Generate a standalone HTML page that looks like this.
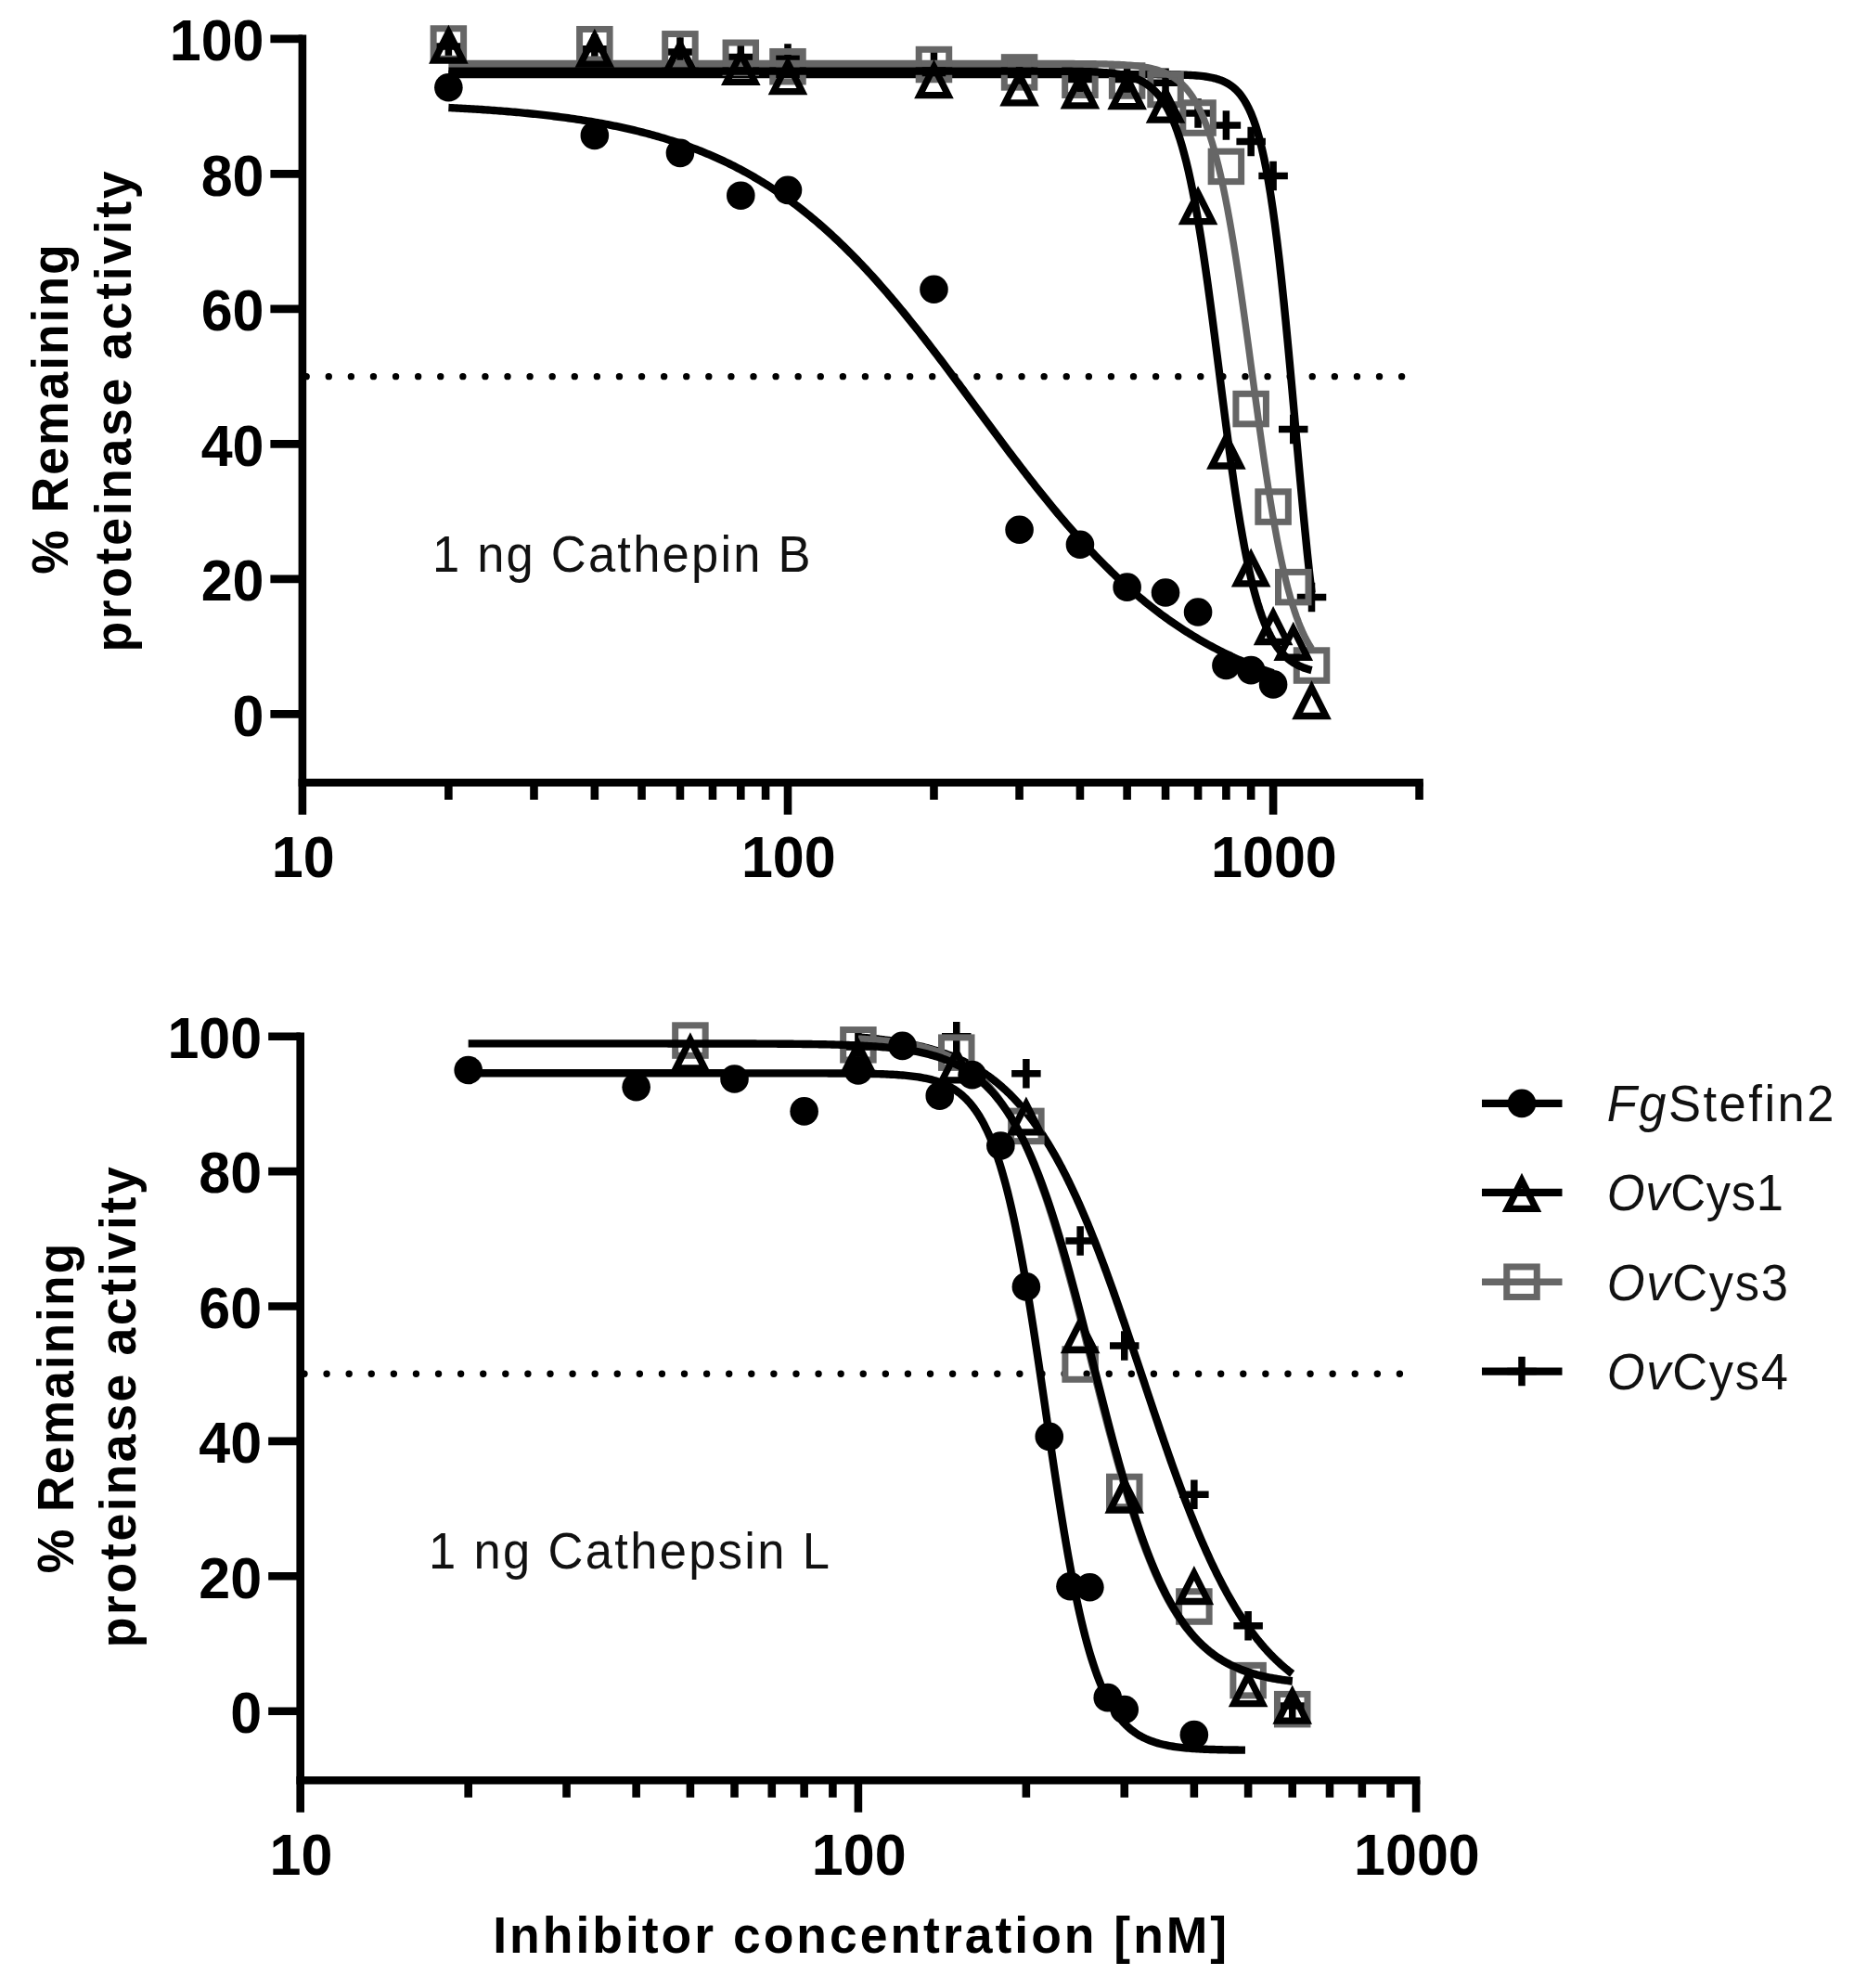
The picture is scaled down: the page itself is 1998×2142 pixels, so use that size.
<!DOCTYPE html>
<html><head><meta charset="utf-8"><title>Inhibition of cathepsin B and L</title>
<style>
html,body{margin:0;padding:0;background:#fff}
svg{display:block}
text{font-family:"Liberation Sans",Arial,Helvetica,sans-serif;fill:#000}
.tk{font-size:61px;font-weight:bold}
.yl{font-size:53.5px;font-weight:bold}
.an{font-size:52.5px;fill:#111}
</style></head><body>
<svg width="1998" height="2142" viewBox="0 0 1998 2142">
<rect width="1998" height="2142" fill="#fff"/>
<path d="M325.9 37.6V877.7" stroke="#000" stroke-width="8.6" fill="none"/>
<path d="M321.6 843.2H1533.87" stroke="#000" stroke-width="8.6" fill="none"/>
<path d="M291.4 769.4H325.9" stroke="#000" stroke-width="8.6"/>
<text transform="translate(284.5 792.6) scale(1 1.04)" text-anchor="end" class="tk">0</text>
<path d="M291.4 623.9H325.9" stroke="#000" stroke-width="8.6"/>
<text transform="translate(284.5 647.1) scale(1 1.04)" text-anchor="end" class="tk">20</text>
<path d="M291.4 478.4H325.9" stroke="#000" stroke-width="8.6"/>
<text transform="translate(284.5 501.6) scale(1 1.04)" text-anchor="end" class="tk">40</text>
<path d="M291.4 332.9H325.9" stroke="#000" stroke-width="8.6"/>
<text transform="translate(284.5 356.1) scale(1 1.04)" text-anchor="end" class="tk">60</text>
<path d="M291.4 187.4H325.9" stroke="#000" stroke-width="8.6"/>
<text transform="translate(284.5 210.6) scale(1 1.04)" text-anchor="end" class="tk">80</text>
<path d="M291.4 41.9H325.9" stroke="#000" stroke-width="8.6"/>
<text transform="translate(284.5 65.1) scale(1 1.04)" text-anchor="end" class="tk">100</text>
<path d="M483.37 843.2V861.7" stroke="#000" stroke-width="8.6"/>
<path d="M575.48 843.2V861.7" stroke="#000" stroke-width="8.6"/>
<path d="M640.84 843.2V861.7" stroke="#000" stroke-width="8.6"/>
<path d="M691.53 843.2V861.7" stroke="#000" stroke-width="8.6"/>
<path d="M732.95 843.2V861.7" stroke="#000" stroke-width="8.6"/>
<path d="M767.97 843.2V861.7" stroke="#000" stroke-width="8.6"/>
<path d="M798.31 843.2V861.7" stroke="#000" stroke-width="8.6"/>
<path d="M825.06 843.2V861.7" stroke="#000" stroke-width="8.6"/>
<path d="M849 843.2V877.7" stroke="#000" stroke-width="8.6"/>
<path d="M1006.47 843.2V861.7" stroke="#000" stroke-width="8.6"/>
<path d="M1098.58 843.2V861.7" stroke="#000" stroke-width="8.6"/>
<path d="M1163.94 843.2V861.7" stroke="#000" stroke-width="8.6"/>
<path d="M1214.63 843.2V861.7" stroke="#000" stroke-width="8.6"/>
<path d="M1256.05 843.2V861.7" stroke="#000" stroke-width="8.6"/>
<path d="M1291.07 843.2V861.7" stroke="#000" stroke-width="8.6"/>
<path d="M1321.41 843.2V861.7" stroke="#000" stroke-width="8.6"/>
<path d="M1348.16 843.2V861.7" stroke="#000" stroke-width="8.6"/>
<path d="M1372.1 843.2V877.7" stroke="#000" stroke-width="8.6"/>
<path d="M1529.57 843.2V861.7" stroke="#000" stroke-width="8.6"/>
<text transform="translate(326.7 944.9) scale(1 1.04)" text-anchor="middle" class="tk">10</text>
<text transform="translate(849.8 944.9) scale(1 1.04)" text-anchor="middle" class="tk">100</text>
<text transform="translate(1372.9 944.9) scale(1 1.04)" text-anchor="middle" class="tk">1000</text>
<path d="M330.2 405.65H1529.57" stroke="#000" stroke-width="7.4" stroke-linecap="round" stroke-dasharray="0 24.09" fill="none"/>
<polyline points="483.37,80.07 485.7,80.07 488.03,80.07 490.36,80.07 492.69,80.07 495.02,80.07 497.36,80.07 499.69,80.07 502.02,80.07 504.35,80.07 506.68,80.07 509.01,80.07 511.34,80.07 513.67,80.07 516.01,80.07 518.34,80.07 520.67,80.07 523,80.07 525.33,80.07 527.66,80.07 529.99,80.07 532.32,80.07 534.66,80.07 536.99,80.07 539.32,80.07 541.65,80.07 543.98,80.07 546.31,80.07 548.64,80.07 550.97,80.07 553.3,80.07 555.64,80.07 557.97,80.07 560.3,80.07 562.63,80.07 564.96,80.07 567.29,80.07 569.62,80.07 571.95,80.07 574.29,80.07 576.62,80.07 578.95,80.07 581.28,80.07 583.61,80.07 585.94,80.07 588.27,80.07 590.6,80.07 592.94,80.07 595.27,80.07 597.6,80.07 599.93,80.07 602.26,80.07 604.59,80.07 606.92,80.07 609.25,80.07 611.59,80.07 613.92,80.07 616.25,80.07 618.58,80.07 620.91,80.07 623.24,80.07 625.57,80.07 627.9,80.07 630.23,80.07 632.57,80.07 634.9,80.07 637.23,80.07 639.56,80.07 641.89,80.07 644.22,80.07 646.55,80.07 648.88,80.07 651.22,80.07 653.55,80.07 655.88,80.07 658.21,80.07 660.54,80.07 662.87,80.07 665.2,80.07 667.53,80.07 669.87,80.07 672.2,80.07 674.53,80.07 676.86,80.07 679.19,80.07 681.52,80.07 683.85,80.07 686.18,80.07 688.51,80.07 690.85,80.07 693.18,80.07 695.51,80.07 697.84,80.07 700.17,80.07 702.5,80.07 704.83,80.07 707.16,80.07 709.5,80.07 711.83,80.07 714.16,80.07 716.49,80.07 718.82,80.07 721.15,80.07 723.48,80.07 725.81,80.07 728.15,80.07 730.48,80.07 732.81,80.07 735.14,80.07 737.47,80.07 739.8,80.07 742.13,80.07 744.46,80.07 746.79,80.07 749.13,80.07 751.46,80.07 753.79,80.07 756.12,80.07 758.45,80.07 760.78,80.07 763.11,80.07 765.44,80.07 767.78,80.07 770.11,80.07 772.44,80.07 774.77,80.07 777.1,80.07 779.43,80.07 781.76,80.07 784.09,80.07 786.43,80.07 788.76,80.07 791.09,80.07 793.42,80.07 795.75,80.07 798.08,80.07 800.41,80.07 802.74,80.07 805.08,80.07 807.41,80.07 809.74,80.07 812.07,80.07 814.4,80.07 816.73,80.07 819.06,80.07 821.39,80.07 823.72,80.07 826.06,80.07 828.39,80.07 830.72,80.07 833.05,80.07 835.38,80.07 837.71,80.07 840.04,80.07 842.37,80.07 844.71,80.07 847.04,80.07 849.37,80.07 851.7,80.07 854.03,80.07 856.36,80.07 858.69,80.07 861.02,80.07 863.36,80.07 865.69,80.07 868.02,80.07 870.35,80.07 872.68,80.07 875.01,80.07 877.34,80.07 879.67,80.07 882,80.07 884.34,80.07 886.67,80.07 889,80.07 891.33,80.07 893.66,80.07 895.99,80.07 898.32,80.07 900.65,80.07 902.99,80.07 905.32,80.07 907.65,80.07 909.98,80.07 912.31,80.07 914.64,80.07 916.97,80.07 919.3,80.07 921.64,80.07 923.97,80.07 926.3,80.07 928.63,80.07 930.96,80.07 933.29,80.07 935.62,80.07 937.95,80.07 940.29,80.07 942.62,80.07 944.95,80.07 947.28,80.07 949.61,80.07 951.94,80.07 954.27,80.07 956.6,80.07 958.93,80.07 961.27,80.07 963.6,80.07 965.93,80.07 968.26,80.07 970.59,80.07 972.92,80.07 975.25,80.07 977.58,80.07 979.92,80.07 982.25,80.07 984.58,80.07 986.91,80.07 989.24,80.07 991.57,80.07 993.9,80.07 996.23,80.07 998.57,80.07 1000.9,80.07 1003.23,80.07 1005.56,80.07 1007.89,80.07 1010.22,80.07 1012.55,80.07 1014.88,80.07 1017.21,80.07 1019.55,80.07 1021.88,80.07 1024.21,80.07 1026.54,80.07 1028.87,80.07 1031.2,80.07 1033.53,80.07 1035.86,80.07 1038.2,80.07 1040.53,80.07 1042.86,80.07 1045.19,80.07 1047.52,80.07 1049.85,80.07 1052.18,80.07 1054.51,80.07 1056.85,80.07 1059.18,80.07 1061.51,80.07 1063.84,80.07 1066.17,80.07 1068.5,80.07 1070.83,80.07 1073.16,80.07 1075.49,80.07 1077.83,80.07 1080.16,80.07 1082.49,80.07 1084.82,80.07 1087.15,80.07 1089.48,80.07 1091.81,80.07 1094.14,80.07 1096.48,80.07 1098.81,80.07 1101.14,80.07 1103.47,80.07 1105.8,80.07 1108.13,80.07 1110.46,80.07 1112.79,80.07 1115.13,80.07 1117.46,80.07 1119.79,80.07 1122.12,80.07 1124.45,80.07 1126.78,80.07 1129.11,80.07 1131.44,80.07 1133.78,80.07 1136.11,80.07 1138.44,80.07 1140.77,80.07 1143.1,80.07 1145.43,80.07 1147.76,80.07 1150.09,80.07 1152.42,80.07 1154.76,80.07 1157.09,80.07 1159.42,80.07 1161.75,80.07 1164.08,80.07 1166.41,80.07 1168.74,80.07 1171.07,80.07 1173.41,80.07 1175.74,80.07 1178.07,80.07 1180.4,80.07 1182.73,80.07 1185.06,80.07 1187.39,80.07 1189.72,80.08 1192.06,80.08 1194.39,80.08 1196.72,80.08 1199.05,80.08 1201.38,80.08 1203.71,80.08 1206.04,80.08 1208.37,80.08 1210.7,80.08 1213.04,80.09 1215.37,80.09 1217.7,80.09 1220.03,80.09 1222.36,80.1 1224.69,80.1 1227.02,80.11 1229.35,80.11 1231.69,80.12 1234.02,80.12 1236.35,80.13 1238.68,80.14 1241.01,80.15 1243.34,80.16 1245.67,80.17 1248,80.19 1250.34,80.2 1252.67,80.22 1255,80.25 1257.33,80.27 1259.66,80.3 1261.99,80.34 1264.32,80.38 1266.65,80.42 1268.98,80.47 1271.32,80.53 1273.65,80.6 1275.98,80.68 1278.31,80.77 1280.64,80.88 1282.97,81 1285.3,81.13 1287.63,81.29 1289.97,81.47 1292.3,81.68 1294.63,81.92 1296.96,82.19 1299.29,82.5 1301.62,82.86 1303.95,83.28 1306.28,83.75 1308.62,84.3 1310.95,84.92 1313.28,85.63 1315.61,86.45 1317.94,87.39 1320.27,88.47 1322.6,89.7 1324.93,91.11 1327.27,92.72 1329.6,94.56 1331.93,96.67 1334.26,99.07 1336.59,101.81 1338.92,104.94 1341.25,108.49 1343.58,112.53 1345.91,117.12 1348.25,122.31 1350.58,128.19 1352.91,134.82 1355.24,142.28 1357.57,150.65 1359.9,160.03 1362.23,170.48 1364.56,182.09 1366.9,194.94 1369.23,209.08 1371.56,224.57 1373.89,241.44 1376.22,259.69 1378.55,279.32 1380.88,300.27 1383.21,322.46 1385.55,345.76 1387.88,370.04 1390.21,395.11 1392.54,420.74 1394.87,446.72 1397.2,472.8 1399.53,498.72 1401.86,524.24 1404.19,549.14 1406.53,573.21 1408.86,596.27 1411.19,618.18 1413.52,638.83" stroke="#000" stroke-width="8.4" fill="none" stroke-linejoin="round"/>
<path d="M467.62 49.9H499.12M483.37 34.15V65.65" stroke="#000" stroke-width="7.5" fill="none"/>
<path d="M625.09 52.81H656.59M640.84 37.06V68.56" stroke="#000" stroke-width="7.5" fill="none"/>
<path d="M717.2 56.09H748.7M732.95 40.34V71.84" stroke="#000" stroke-width="7.5" fill="none"/>
<path d="M782.56 61.54H814.06M798.31 45.79V77.29" stroke="#000" stroke-width="7.5" fill="none"/>
<path d="M833.25 63H864.75M849 47.25V78.75" stroke="#000" stroke-width="7.5" fill="none"/>
<path d="M990.72 71.73H1022.22M1006.47 55.98V87.48" stroke="#000" stroke-width="7.5" fill="none"/>
<path d="M1082.83 78.28H1114.33M1098.58 62.53V94.03" stroke="#000" stroke-width="7.5" fill="none"/>
<path d="M1148.19 85.55H1179.69M1163.94 69.8V101.3" stroke="#000" stroke-width="7.5" fill="none"/>
<path d="M1198.88 85.55H1230.38M1214.63 69.8V101.3" stroke="#000" stroke-width="7.5" fill="none"/>
<path d="M1240.3 89.19H1271.8M1256.05 73.44V104.94" stroke="#000" stroke-width="7.5" fill="none"/>
<path d="M1275.32 121.93H1306.82M1291.07 106.18V137.68" stroke="#000" stroke-width="7.5" fill="none"/>
<path d="M1305.66 135.02H1337.16M1321.41 119.27V150.77" stroke="#000" stroke-width="7.5" fill="none"/>
<path d="M1332.41 152.48H1363.91M1348.16 136.73V168.23" stroke="#000" stroke-width="7.5" fill="none"/>
<path d="M1356.35 189.58H1387.85M1372.1 173.83V205.33" stroke="#000" stroke-width="7.5" fill="none"/>
<path d="M1378 462.39H1409.5M1393.75 446.64V478.14" stroke="#000" stroke-width="7.5" fill="none"/>
<path d="M1397.77 643.54H1429.27M1413.52 627.79V659.29" stroke="#000" stroke-width="7.5" fill="none"/>
<polyline points="483.37,68.44 485.7,68.44 488.03,68.44 490.36,68.44 492.69,68.44 495.02,68.44 497.36,68.44 499.69,68.44 502.02,68.44 504.35,68.44 506.68,68.44 509.01,68.44 511.34,68.44 513.67,68.44 516.01,68.44 518.34,68.44 520.67,68.44 523,68.44 525.33,68.44 527.66,68.44 529.99,68.44 532.32,68.44 534.66,68.44 536.99,68.44 539.32,68.44 541.65,68.44 543.98,68.44 546.31,68.44 548.64,68.44 550.97,68.44 553.3,68.44 555.64,68.44 557.97,68.44 560.3,68.44 562.63,68.44 564.96,68.44 567.29,68.44 569.62,68.44 571.95,68.44 574.29,68.44 576.62,68.44 578.95,68.44 581.28,68.44 583.61,68.44 585.94,68.44 588.27,68.44 590.6,68.44 592.94,68.44 595.27,68.44 597.6,68.44 599.93,68.44 602.26,68.44 604.59,68.44 606.92,68.44 609.25,68.44 611.59,68.44 613.92,68.44 616.25,68.44 618.58,68.44 620.91,68.44 623.24,68.44 625.57,68.44 627.9,68.44 630.23,68.44 632.57,68.44 634.9,68.44 637.23,68.44 639.56,68.44 641.89,68.44 644.22,68.44 646.55,68.44 648.88,68.44 651.22,68.44 653.55,68.44 655.88,68.44 658.21,68.44 660.54,68.44 662.87,68.44 665.2,68.44 667.53,68.44 669.87,68.44 672.2,68.44 674.53,68.44 676.86,68.44 679.19,68.44 681.52,68.44 683.85,68.44 686.18,68.44 688.51,68.44 690.85,68.44 693.18,68.44 695.51,68.44 697.84,68.44 700.17,68.44 702.5,68.44 704.83,68.44 707.16,68.44 709.5,68.44 711.83,68.44 714.16,68.44 716.49,68.44 718.82,68.44 721.15,68.44 723.48,68.44 725.81,68.44 728.15,68.44 730.48,68.44 732.81,68.44 735.14,68.44 737.47,68.44 739.8,68.44 742.13,68.44 744.46,68.44 746.79,68.44 749.13,68.44 751.46,68.44 753.79,68.44 756.12,68.44 758.45,68.44 760.78,68.44 763.11,68.44 765.44,68.44 767.78,68.44 770.11,68.44 772.44,68.44 774.77,68.44 777.1,68.44 779.43,68.44 781.76,68.44 784.09,68.44 786.43,68.44 788.76,68.44 791.09,68.44 793.42,68.44 795.75,68.44 798.08,68.44 800.41,68.44 802.74,68.44 805.08,68.44 807.41,68.44 809.74,68.44 812.07,68.44 814.4,68.44 816.73,68.44 819.06,68.44 821.39,68.44 823.72,68.44 826.06,68.44 828.39,68.44 830.72,68.44 833.05,68.44 835.38,68.44 837.71,68.44 840.04,68.44 842.37,68.44 844.71,68.44 847.04,68.44 849.37,68.44 851.7,68.44 854.03,68.44 856.36,68.44 858.69,68.44 861.02,68.44 863.36,68.44 865.69,68.44 868.02,68.44 870.35,68.44 872.68,68.44 875.01,68.44 877.34,68.44 879.67,68.44 882,68.44 884.34,68.44 886.67,68.44 889,68.44 891.33,68.44 893.66,68.44 895.99,68.44 898.32,68.44 900.65,68.44 902.99,68.44 905.32,68.44 907.65,68.44 909.98,68.44 912.31,68.44 914.64,68.44 916.97,68.44 919.3,68.44 921.64,68.44 923.97,68.44 926.3,68.44 928.63,68.44 930.96,68.44 933.29,68.44 935.62,68.44 937.95,68.44 940.29,68.44 942.62,68.44 944.95,68.44 947.28,68.44 949.61,68.44 951.94,68.44 954.27,68.44 956.6,68.44 958.93,68.44 961.27,68.44 963.6,68.44 965.93,68.44 968.26,68.44 970.59,68.44 972.92,68.44 975.25,68.44 977.58,68.44 979.92,68.44 982.25,68.44 984.58,68.44 986.91,68.44 989.24,68.44 991.57,68.44 993.9,68.44 996.23,68.44 998.57,68.44 1000.9,68.44 1003.23,68.44 1005.56,68.44 1007.89,68.44 1010.22,68.44 1012.55,68.44 1014.88,68.44 1017.21,68.44 1019.55,68.44 1021.88,68.44 1024.21,68.44 1026.54,68.44 1028.87,68.44 1031.2,68.44 1033.53,68.44 1035.86,68.44 1038.2,68.44 1040.53,68.44 1042.86,68.44 1045.19,68.44 1047.52,68.44 1049.85,68.44 1052.18,68.44 1054.51,68.44 1056.85,68.44 1059.18,68.44 1061.51,68.44 1063.84,68.44 1066.17,68.44 1068.5,68.44 1070.83,68.44 1073.16,68.44 1075.49,68.44 1077.83,68.44 1080.16,68.44 1082.49,68.45 1084.82,68.45 1087.15,68.45 1089.48,68.45 1091.81,68.45 1094.14,68.45 1096.48,68.45 1098.81,68.45 1101.14,68.45 1103.47,68.45 1105.8,68.45 1108.13,68.45 1110.46,68.46 1112.79,68.46 1115.13,68.46 1117.46,68.46 1119.79,68.46 1122.12,68.47 1124.45,68.47 1126.78,68.47 1129.11,68.48 1131.44,68.48 1133.78,68.48 1136.11,68.49 1138.44,68.5 1140.77,68.5 1143.1,68.51 1145.43,68.52 1147.76,68.52 1150.09,68.53 1152.42,68.54 1154.76,68.55 1157.09,68.57 1159.42,68.58 1161.75,68.59 1164.08,68.61 1166.41,68.63 1168.74,68.65 1171.07,68.67 1173.41,68.7 1175.74,68.73 1178.07,68.76 1180.4,68.8 1182.73,68.83 1185.06,68.88 1187.39,68.92 1189.72,68.98 1192.06,69.04 1194.39,69.1 1196.72,69.17 1199.05,69.26 1201.38,69.34 1203.71,69.44 1206.04,69.55 1208.37,69.67 1210.7,69.81 1213.04,69.96 1215.37,70.13 1217.7,70.31 1220.03,70.51 1222.36,70.74 1224.69,70.99 1227.02,71.27 1229.35,71.58 1231.69,71.92 1234.02,72.3 1236.35,72.72 1238.68,73.19 1241.01,73.71 1243.34,74.28 1245.67,74.91 1248,75.61 1250.34,76.39 1252.67,77.25 1255,78.2 1257.33,79.26 1259.66,80.42 1261.99,81.71 1264.32,83.13 1266.65,84.7 1268.98,86.44 1271.32,88.35 1273.65,90.46 1275.98,92.79 1278.31,95.35 1280.64,98.17 1282.97,101.27 1285.3,104.68 1287.63,108.41 1289.97,112.5 1292.3,116.98 1294.63,121.88 1296.96,127.22 1299.29,133.05 1301.62,139.38 1303.95,146.25 1306.28,153.69 1308.62,161.73 1310.95,170.39 1313.28,179.7 1315.61,189.68 1317.94,200.35 1320.27,211.7 1322.6,223.75 1324.93,236.49 1327.27,249.9 1329.6,263.96 1331.93,278.63 1334.26,293.89 1336.59,309.66 1338.92,325.89 1341.25,342.51 1343.58,359.44 1345.91,376.59 1348.25,393.88 1350.58,411.21 1352.91,428.49 1355.24,445.62 1357.57,462.52 1359.9,479.11 1362.23,495.29 1364.56,511.01 1366.9,526.2 1369.23,540.82 1371.56,554.81 1373.89,568.15 1376.22,580.81 1378.55,592.78 1380.88,604.06 1383.21,614.65 1385.55,624.56 1387.88,633.8 1390.21,642.4 1392.54,650.37 1394.87,657.75 1397.2,664.56 1399.53,670.84 1401.86,676.61 1404.19,681.9 1406.53,686.75 1408.86,691.19 1411.19,695.24 1413.52,698.94" stroke="#666" stroke-width="7.4" fill="none" stroke-linejoin="round"/>
<rect x="467.12" y="30.74" width="32.5" height="32.5" stroke="#666" stroke-width="7" fill="none"/>
<rect x="624.59" y="31.47" width="32.5" height="32.5" stroke="#666" stroke-width="7" fill="none"/>
<rect x="716.7" y="36.56" width="32.5" height="32.5" stroke="#666" stroke-width="7" fill="none"/>
<rect x="782.06" y="46.02" width="32.5" height="32.5" stroke="#666" stroke-width="7" fill="none"/>
<rect x="832.75" y="55.48" width="32.5" height="32.5" stroke="#666" stroke-width="7" fill="none"/>
<rect x="990.22" y="53.29" width="32.5" height="32.5" stroke="#666" stroke-width="7" fill="none"/>
<rect x="1082.33" y="61.66" width="32.5" height="32.5" stroke="#666" stroke-width="7" fill="none"/>
<rect x="1147.69" y="70.03" width="32.5" height="32.5" stroke="#666" stroke-width="7" fill="none"/>
<rect x="1198.38" y="70.76" width="32.5" height="32.5" stroke="#666" stroke-width="7" fill="none"/>
<rect x="1239.8" y="80.21" width="32.5" height="32.5" stroke="#666" stroke-width="7" fill="none"/>
<rect x="1274.82" y="110.77" width="32.5" height="32.5" stroke="#666" stroke-width="7" fill="none"/>
<rect x="1305.16" y="163.15" width="32.5" height="32.5" stroke="#666" stroke-width="7" fill="none"/>
<rect x="1331.91" y="424.32" width="32.5" height="32.5" stroke="#666" stroke-width="7" fill="none"/>
<rect x="1355.85" y="529.81" width="32.5" height="32.5" stroke="#666" stroke-width="7" fill="none"/>
<rect x="1377.5" y="616.38" width="32.5" height="32.5" stroke="#666" stroke-width="7" fill="none"/>
<rect x="1397.27" y="700.77" width="32.5" height="32.5" stroke="#666" stroke-width="7" fill="none"/>
<polyline points="483.37,76.54 485.7,76.54 488.03,76.54 490.36,76.54 492.69,76.54 495.02,76.54 497.36,76.54 499.69,76.54 502.02,76.54 504.35,76.54 506.68,76.54 509.01,76.54 511.34,76.54 513.67,76.54 516.01,76.54 518.34,76.54 520.67,76.54 523,76.54 525.33,76.54 527.66,76.54 529.99,76.54 532.32,76.54 534.66,76.54 536.99,76.54 539.32,76.54 541.65,76.54 543.98,76.54 546.31,76.54 548.64,76.54 550.97,76.54 553.3,76.54 555.64,76.54 557.97,76.54 560.3,76.54 562.63,76.54 564.96,76.54 567.29,76.54 569.62,76.54 571.95,76.54 574.29,76.54 576.62,76.54 578.95,76.54 581.28,76.54 583.61,76.54 585.94,76.54 588.27,76.54 590.6,76.54 592.94,76.54 595.27,76.54 597.6,76.54 599.93,76.54 602.26,76.54 604.59,76.54 606.92,76.54 609.25,76.54 611.59,76.54 613.92,76.54 616.25,76.54 618.58,76.54 620.91,76.54 623.24,76.54 625.57,76.54 627.9,76.54 630.23,76.54 632.57,76.54 634.9,76.54 637.23,76.54 639.56,76.54 641.89,76.54 644.22,76.54 646.55,76.54 648.88,76.54 651.22,76.54 653.55,76.54 655.88,76.54 658.21,76.54 660.54,76.54 662.87,76.54 665.2,76.54 667.53,76.54 669.87,76.54 672.2,76.54 674.53,76.54 676.86,76.54 679.19,76.54 681.52,76.54 683.85,76.54 686.18,76.54 688.51,76.54 690.85,76.54 693.18,76.54 695.51,76.54 697.84,76.54 700.17,76.54 702.5,76.54 704.83,76.54 707.16,76.54 709.5,76.54 711.83,76.54 714.16,76.54 716.49,76.54 718.82,76.54 721.15,76.54 723.48,76.54 725.81,76.54 728.15,76.54 730.48,76.54 732.81,76.54 735.14,76.54 737.47,76.54 739.8,76.54 742.13,76.54 744.46,76.54 746.79,76.54 749.13,76.54 751.46,76.54 753.79,76.54 756.12,76.54 758.45,76.54 760.78,76.54 763.11,76.54 765.44,76.54 767.78,76.54 770.11,76.54 772.44,76.54 774.77,76.54 777.1,76.54 779.43,76.54 781.76,76.54 784.09,76.54 786.43,76.54 788.76,76.54 791.09,76.54 793.42,76.54 795.75,76.54 798.08,76.54 800.41,76.54 802.74,76.54 805.08,76.54 807.41,76.54 809.74,76.54 812.07,76.54 814.4,76.54 816.73,76.54 819.06,76.54 821.39,76.54 823.72,76.54 826.06,76.54 828.39,76.54 830.72,76.54 833.05,76.54 835.38,76.54 837.71,76.54 840.04,76.54 842.37,76.54 844.71,76.54 847.04,76.54 849.37,76.54 851.7,76.54 854.03,76.54 856.36,76.54 858.69,76.54 861.02,76.54 863.36,76.54 865.69,76.54 868.02,76.54 870.35,76.54 872.68,76.54 875.01,76.54 877.34,76.54 879.67,76.54 882,76.54 884.34,76.54 886.67,76.54 889,76.54 891.33,76.54 893.66,76.54 895.99,76.54 898.32,76.54 900.65,76.54 902.99,76.54 905.32,76.54 907.65,76.54 909.98,76.54 912.31,76.54 914.64,76.54 916.97,76.54 919.3,76.54 921.64,76.54 923.97,76.54 926.3,76.54 928.63,76.54 930.96,76.54 933.29,76.54 935.62,76.54 937.95,76.54 940.29,76.54 942.62,76.54 944.95,76.54 947.28,76.54 949.61,76.54 951.94,76.54 954.27,76.54 956.6,76.54 958.93,76.54 961.27,76.54 963.6,76.54 965.93,76.54 968.26,76.54 970.59,76.54 972.92,76.54 975.25,76.54 977.58,76.54 979.92,76.54 982.25,76.54 984.58,76.54 986.91,76.54 989.24,76.54 991.57,76.54 993.9,76.54 996.23,76.54 998.57,76.54 1000.9,76.54 1003.23,76.54 1005.56,76.54 1007.89,76.54 1010.22,76.54 1012.55,76.54 1014.88,76.54 1017.21,76.54 1019.55,76.54 1021.88,76.54 1024.21,76.54 1026.54,76.54 1028.87,76.54 1031.2,76.54 1033.53,76.54 1035.86,76.54 1038.2,76.54 1040.53,76.54 1042.86,76.54 1045.19,76.54 1047.52,76.54 1049.85,76.54 1052.18,76.54 1054.51,76.54 1056.85,76.54 1059.18,76.54 1061.51,76.54 1063.84,76.54 1066.17,76.54 1068.5,76.54 1070.83,76.54 1073.16,76.54 1075.49,76.54 1077.83,76.54 1080.16,76.54 1082.49,76.54 1084.82,76.54 1087.15,76.55 1089.48,76.55 1091.81,76.55 1094.14,76.55 1096.48,76.55 1098.81,76.55 1101.14,76.56 1103.47,76.56 1105.8,76.56 1108.13,76.56 1110.46,76.57 1112.79,76.57 1115.13,76.58 1117.46,76.58 1119.79,76.59 1122.12,76.59 1124.45,76.6 1126.78,76.61 1129.11,76.62 1131.44,76.63 1133.78,76.64 1136.11,76.65 1138.44,76.66 1140.77,76.68 1143.1,76.7 1145.43,76.72 1147.76,76.74 1150.09,76.76 1152.42,76.79 1154.76,76.82 1157.09,76.85 1159.42,76.89 1161.75,76.93 1164.08,76.98 1166.41,77.04 1168.74,77.1 1171.07,77.16 1173.41,77.24 1175.74,77.32 1178.07,77.42 1180.4,77.52 1182.73,77.64 1185.06,77.77 1187.39,77.92 1189.72,78.08 1192.06,78.27 1194.39,78.48 1196.72,78.71 1199.05,78.97 1201.38,79.26 1203.71,79.58 1206.04,79.95 1208.37,80.35 1210.7,80.81 1213.04,81.32 1215.37,81.88 1217.7,82.52 1220.03,83.23 1222.36,84.02 1224.69,84.91 1227.02,85.9 1229.35,87 1231.69,88.24 1234.02,89.61 1236.35,91.14 1238.68,92.85 1241.01,94.75 1243.34,96.87 1245.67,99.22 1248,101.83 1250.34,104.74 1252.67,107.95 1255,111.52 1257.33,115.46 1259.66,119.82 1261.99,124.62 1264.32,129.91 1266.65,135.73 1268.98,142.11 1271.32,149.1 1273.65,156.72 1275.98,165.03 1278.31,174.05 1280.64,183.81 1282.97,194.35 1285.3,205.67 1287.63,217.79 1289.97,230.71 1292.3,244.43 1294.63,258.91 1296.96,274.14 1299.29,290.05 1301.62,306.6 1303.95,323.71 1306.28,341.28 1308.62,359.23 1310.95,377.45 1313.28,395.83 1315.61,414.24 1317.94,432.57 1320.27,450.71 1322.6,468.55 1324.93,485.97 1327.27,502.89 1329.6,519.23 1331.93,534.92 1334.26,549.9 1336.59,564.12 1338.92,577.57 1341.25,590.22 1343.58,602.06 1345.91,613.11 1348.25,623.38 1350.58,632.89 1352.91,641.66 1355.24,649.73 1357.57,657.13 1359.9,663.91 1362.23,670.09 1364.56,675.72 1366.9,680.85 1369.23,685.49 1371.56,689.7 1373.89,693.51 1376.22,696.96 1378.55,700.06 1380.88,702.86 1383.21,705.38 1385.55,707.65 1387.88,709.69 1390.21,711.53 1392.54,713.17 1394.87,714.65 1397.2,715.97 1399.53,717.16 1401.86,718.22 1404.19,719.18 1406.53,720.03 1408.86,720.79 1411.19,721.48 1413.52,722.09" stroke="#000" stroke-width="8.4" fill="none" stroke-linejoin="round"/>
<path d="M483.37 34.75L498.74 65.12H468Z" stroke="#000" stroke-width="7.3" fill="none" stroke-linejoin="miter"/>
<path d="M640.84 38.75L656.21 69.12H625.47Z" stroke="#000" stroke-width="7.3" fill="none" stroke-linejoin="miter"/>
<path d="M732.95 47.84L748.32 78.21H717.58Z" stroke="#000" stroke-width="7.3" fill="none" stroke-linejoin="miter"/>
<path d="M798.31 58.03L813.68 88.4H782.94Z" stroke="#000" stroke-width="7.3" fill="none" stroke-linejoin="miter"/>
<path d="M849 68.22L864.37 98.59H833.63Z" stroke="#000" stroke-width="7.3" fill="none" stroke-linejoin="miter"/>
<path d="M1006.47 72.22L1021.84 102.59H991.1Z" stroke="#000" stroke-width="7.3" fill="none" stroke-linejoin="miter"/>
<path d="M1098.58 80.58L1113.95 110.95H1083.21Z" stroke="#000" stroke-width="7.3" fill="none" stroke-linejoin="miter"/>
<path d="M1163.94 83.49L1179.31 113.86H1148.57Z" stroke="#000" stroke-width="7.3" fill="none" stroke-linejoin="miter"/>
<path d="M1214.63 84.22L1230 114.59H1199.26Z" stroke="#000" stroke-width="7.3" fill="none" stroke-linejoin="miter"/>
<path d="M1256.05 98.77L1271.42 129.14H1240.68Z" stroke="#000" stroke-width="7.3" fill="none" stroke-linejoin="miter"/>
<path d="M1291.07 208.26L1306.44 238.63H1275.7Z" stroke="#000" stroke-width="7.3" fill="none" stroke-linejoin="miter"/>
<path d="M1321.41 471.61L1336.78 501.98H1306.04Z" stroke="#000" stroke-width="7.3" fill="none" stroke-linejoin="miter"/>
<path d="M1348.16 598.56L1363.53 628.93H1332.79Z" stroke="#000" stroke-width="7.3" fill="none" stroke-linejoin="miter"/>
<path d="M1372.1 661.13L1387.47 691.5H1356.73Z" stroke="#000" stroke-width="7.3" fill="none" stroke-linejoin="miter"/>
<path d="M1393.75 677.86L1409.12 708.23H1378.38Z" stroke="#000" stroke-width="7.3" fill="none" stroke-linejoin="miter"/>
<path d="M1413.52 741.15L1428.89 771.52H1398.15Z" stroke="#000" stroke-width="7.3" fill="none" stroke-linejoin="miter"/>
<polyline points="483.37,116 485.6,116.11 487.82,116.23 490.05,116.34 492.28,116.46 494.51,116.58 496.73,116.7 498.96,116.83 501.19,116.95 503.42,117.08 505.64,117.22 507.87,117.35 510.1,117.49 512.32,117.63 514.55,117.77 516.78,117.91 519.01,118.06 521.23,118.21 523.46,118.36 525.69,118.51 527.92,118.67 530.14,118.83 532.37,118.99 534.6,119.16 536.83,119.33 539.05,119.5 541.28,119.68 543.51,119.85 545.74,120.03 547.96,120.22 550.19,120.41 552.42,120.6 554.65,120.79 556.87,120.99 559.1,121.19 561.33,121.4 563.56,121.61 565.78,121.82 568.01,122.04 570.24,122.26 572.46,122.48 574.69,122.71 576.92,122.94 579.15,123.18 581.37,123.42 583.6,123.66 585.83,123.91 588.06,124.16 590.28,124.42 592.51,124.68 594.74,124.95 596.97,125.22 599.19,125.5 601.42,125.78 603.65,126.07 605.88,126.36 608.1,126.65 610.33,126.96 612.56,127.26 614.79,127.58 617.01,127.89 619.24,128.22 621.47,128.54 623.69,128.88 625.92,129.22 628.15,129.57 630.38,129.92 632.6,130.28 634.83,130.64 637.06,131.01 639.29,131.39 641.51,131.77 643.74,132.16 645.97,132.56 648.2,132.96 650.42,133.37 652.65,133.79 654.88,134.22 657.11,134.65 659.33,135.09 661.56,135.54 663.79,135.99 666.02,136.45 668.24,136.92 670.47,137.4 672.7,137.89 674.92,138.38 677.15,138.88 679.38,139.39 681.61,139.91 683.83,140.44 686.06,140.98 688.29,141.53 690.52,142.08 692.74,142.65 694.97,143.22 697.2,143.8 699.43,144.4 701.65,145 703.88,145.61 706.11,146.23 708.34,146.87 710.56,147.51 712.79,148.16 715.02,148.83 717.25,149.5 719.47,150.19 721.7,150.89 723.93,151.59 726.16,152.31 728.38,153.05 730.61,153.79 732.84,154.54 735.06,155.31 737.29,156.09 739.52,156.88 741.75,157.69 743.97,158.5 746.2,159.33 748.43,160.17 750.66,161.03 752.88,161.9 755.11,162.78 757.34,163.68 759.57,164.59 761.79,165.51 764.02,166.45 766.25,167.4 768.48,168.37 770.7,169.35 772.93,170.34 775.16,171.36 777.39,172.38 779.61,173.42 781.84,174.48 784.07,175.55 786.29,176.64 788.52,177.75 790.75,178.87 792.98,180 795.2,181.16 797.43,182.33 799.66,183.51 801.89,184.72 804.11,185.94 806.34,187.18 808.57,188.43 810.8,189.71 813.02,191 815.25,192.31 817.48,193.63 819.71,194.98 821.93,196.34 824.16,197.72 826.39,199.12 828.62,200.54 830.84,201.98 833.07,203.44 835.3,204.92 837.52,206.41 839.75,207.93 841.98,209.46 844.21,211.02 846.43,212.59 848.66,214.19 850.89,215.8 853.12,217.44 855.34,219.09 857.57,220.77 859.8,222.46 862.03,224.18 864.25,225.92 866.48,227.67 868.71,229.45 870.94,231.25 873.16,233.07 875.39,234.91 877.62,236.77 879.85,238.66 882.07,240.56 884.3,242.49 886.53,244.43 888.75,246.4 890.98,248.39 893.21,250.4 895.44,252.43 897.66,254.48 899.89,256.56 902.12,258.65 904.35,260.77 906.57,262.91 908.8,265.06 911.03,267.24 913.26,269.44 915.48,271.66 917.71,273.91 919.94,276.17 922.17,278.45 924.39,280.76 926.62,283.08 928.85,285.42 931.08,287.79 933.3,290.17 935.53,292.58 937.76,295 939.99,297.44 942.21,299.91 944.44,302.39 946.67,304.89 948.89,307.41 951.12,309.95 953.35,312.5 955.58,315.08 957.8,317.67 960.03,320.28 962.26,322.91 964.49,325.55 966.71,328.21 968.94,330.89 971.17,333.58 973.4,336.29 975.62,339.02 977.85,341.76 980.08,344.52 982.31,347.29 984.53,350.07 986.76,352.87 988.99,355.68 991.22,358.51 993.44,361.35 995.67,364.2 997.9,367.06 1000.12,369.93 1002.35,372.82 1004.58,375.71 1006.81,378.62 1009.03,381.53 1011.26,384.46 1013.49,387.39 1015.72,390.34 1017.94,393.29 1020.17,396.25 1022.4,399.21 1024.63,402.19 1026.85,405.16 1029.08,408.15 1031.31,411.14 1033.54,414.13 1035.76,417.13 1037.99,420.13 1040.22,423.14 1042.45,426.15 1044.67,429.16 1046.9,432.17 1049.13,435.19 1051.35,438.2 1053.58,441.22 1055.81,444.23 1058.04,447.25 1060.26,450.26 1062.49,453.27 1064.72,456.28 1066.95,459.29 1069.17,462.29 1071.4,465.29 1073.63,468.29 1075.86,471.28 1078.08,474.26 1080.31,477.24 1082.54,480.22 1084.77,483.18 1086.99,486.15 1089.22,489.1 1091.45,492.04 1093.68,494.98 1095.9,497.91 1098.13,500.82 1100.36,503.73 1102.59,506.63 1104.81,509.52 1107.04,512.39 1109.27,515.26 1111.49,518.11 1113.72,520.95 1115.95,523.78 1118.18,526.59 1120.4,529.39 1122.63,532.18 1124.86,534.96 1127.09,537.71 1129.31,540.46 1131.54,543.19 1133.77,545.9 1136,548.6 1138.22,551.28 1140.45,553.94 1142.68,556.59 1144.91,559.22 1147.13,561.84 1149.36,564.43 1151.59,567.01 1153.82,569.57 1156.04,572.11 1158.27,574.64 1160.5,577.14 1162.72,579.63 1164.95,582.09 1167.18,584.54 1169.41,586.97 1171.63,589.38 1173.86,591.76 1176.09,594.13 1178.32,596.48 1180.54,598.81 1182.77,601.12 1185,603.4 1187.23,605.67 1189.45,607.92 1191.68,610.14 1193.91,612.35 1196.14,614.53 1198.36,616.69 1200.59,618.83 1202.82,620.95 1205.05,623.05 1207.27,625.13 1209.5,627.19 1211.73,629.22 1213.95,631.24 1216.18,633.23 1218.41,635.2 1220.64,637.15 1222.86,639.08 1225.09,640.99 1227.32,642.88 1229.55,644.75 1231.77,646.59 1234,648.42 1236.23,650.22 1238.46,652 1240.68,653.76 1242.91,655.51 1245.14,657.23 1247.37,658.93 1249.59,660.61 1251.82,662.26 1254.05,663.9 1256.28,665.52 1258.5,667.12 1260.73,668.7 1262.96,670.26 1265.18,671.8 1267.41,673.32 1269.64,674.82 1271.87,676.3 1274.09,677.76 1276.32,679.2 1278.55,680.62 1280.78,682.03 1283,683.42 1285.23,684.78 1287.46,686.13 1289.69,687.46 1291.91,688.77 1294.14,690.07 1296.37,691.35 1298.6,692.61 1300.82,693.85 1303.05,695.07 1305.28,696.28 1307.51,697.47 1309.73,698.64 1311.96,699.8 1314.19,700.94 1316.42,702.06 1318.64,703.17 1320.87,704.26 1323.1,705.34 1325.32,706.4 1327.55,707.44 1329.78,708.47 1332.01,709.49 1334.23,710.49 1336.46,711.47 1338.69,712.44 1340.92,713.4 1343.14,714.34 1345.37,715.26 1347.6,716.18 1349.83,717.08 1352.05,717.96 1354.28,718.83 1356.51,719.69 1358.74,720.54 1360.96,721.37 1363.19,722.19 1365.42,722.99 1367.65,723.79 1369.87,724.57 1372.1,725.34" stroke="#000" stroke-width="8.4" fill="none" stroke-linejoin="round"/>
<circle cx="483.37" cy="94.28" r="15.3" fill="#000"/>
<circle cx="640.84" cy="145.93" r="15.3" fill="#000"/>
<circle cx="732.95" cy="164.85" r="15.3" fill="#000"/>
<circle cx="798.31" cy="210.68" r="15.3" fill="#000"/>
<circle cx="849" cy="204.86" r="15.3" fill="#000"/>
<circle cx="1006.47" cy="311.8" r="15.3" fill="#000"/>
<circle cx="1098.58" cy="570.79" r="15.3" fill="#000"/>
<circle cx="1163.94" cy="586.8" r="15.3" fill="#000"/>
<circle cx="1214.63" cy="632.63" r="15.3" fill="#000"/>
<circle cx="1256.05" cy="638.45" r="15.3" fill="#000"/>
<circle cx="1291.07" cy="659.55" r="15.3" fill="#000"/>
<circle cx="1321.41" cy="717.02" r="15.3" fill="#000"/>
<circle cx="1348.16" cy="722.11" r="15.3" fill="#000"/>
<circle cx="1372.1" cy="737.39" r="15.3" fill="#000"/>
<path d="M323.7 1112.4V1952.7" stroke="#000" stroke-width="8.6" fill="none"/>
<path d="M319.4 1918.2H1530.4" stroke="#000" stroke-width="8.6" fill="none"/>
<path d="M289.2 1843.7H323.7" stroke="#000" stroke-width="8.6"/>
<text transform="translate(282.2 1866.9) scale(1 1.04)" text-anchor="end" class="tk">0</text>
<path d="M289.2 1698.3H323.7" stroke="#000" stroke-width="8.6"/>
<text transform="translate(282.2 1721.5) scale(1 1.04)" text-anchor="end" class="tk">20</text>
<path d="M289.2 1552.9H323.7" stroke="#000" stroke-width="8.6"/>
<text transform="translate(282.2 1576.1) scale(1 1.04)" text-anchor="end" class="tk">40</text>
<path d="M289.2 1407.5H323.7" stroke="#000" stroke-width="8.6"/>
<text transform="translate(282.2 1430.7) scale(1 1.04)" text-anchor="end" class="tk">60</text>
<path d="M289.2 1262.1H323.7" stroke="#000" stroke-width="8.6"/>
<text transform="translate(282.2 1285.3) scale(1 1.04)" text-anchor="end" class="tk">80</text>
<path d="M289.2 1116.7H323.7" stroke="#000" stroke-width="8.6"/>
<text transform="translate(282.2 1139.9) scale(1 1.04)" text-anchor="end" class="tk">100</text>
<path d="M504.68 1918.2V1936.7" stroke="#000" stroke-width="8.6"/>
<path d="M610.55 1918.2V1936.7" stroke="#000" stroke-width="8.6"/>
<path d="M685.66 1918.2V1936.7" stroke="#000" stroke-width="8.6"/>
<path d="M743.92 1918.2V1936.7" stroke="#000" stroke-width="8.6"/>
<path d="M791.52 1918.2V1936.7" stroke="#000" stroke-width="8.6"/>
<path d="M831.77 1918.2V1936.7" stroke="#000" stroke-width="8.6"/>
<path d="M866.64 1918.2V1936.7" stroke="#000" stroke-width="8.6"/>
<path d="M897.39 1918.2V1936.7" stroke="#000" stroke-width="8.6"/>
<path d="M924.9 1918.2V1952.7" stroke="#000" stroke-width="8.6"/>
<path d="M1105.88 1918.2V1936.7" stroke="#000" stroke-width="8.6"/>
<path d="M1211.75 1918.2V1936.7" stroke="#000" stroke-width="8.6"/>
<path d="M1286.86 1918.2V1936.7" stroke="#000" stroke-width="8.6"/>
<path d="M1345.12 1918.2V1936.7" stroke="#000" stroke-width="8.6"/>
<path d="M1392.72 1918.2V1936.7" stroke="#000" stroke-width="8.6"/>
<path d="M1432.97 1918.2V1936.7" stroke="#000" stroke-width="8.6"/>
<path d="M1467.84 1918.2V1936.7" stroke="#000" stroke-width="8.6"/>
<path d="M1498.59 1918.2V1936.7" stroke="#000" stroke-width="8.6"/>
<path d="M1526.1 1918.2V1952.7" stroke="#000" stroke-width="8.6"/>
<text transform="translate(324.5 2019.9) scale(1 1.04)" text-anchor="middle" class="tk">10</text>
<text transform="translate(925.7 2019.9) scale(1 1.04)" text-anchor="middle" class="tk">100</text>
<text transform="translate(1526.9 2019.9) scale(1 1.04)" text-anchor="middle" class="tk">1000</text>
<path d="M328 1480.2H1526.1" stroke="#000" stroke-width="7.4" stroke-linecap="round" stroke-dasharray="0 24.09" fill="none"/>
<polyline points="924.9,1117.46 926.07,1117.56 927.24,1117.66 928.42,1117.76 929.59,1117.87 930.76,1117.97 931.93,1118.08 933.11,1118.19 934.28,1118.3 935.45,1118.41 936.62,1118.53 937.8,1118.65 938.97,1118.77 940.14,1118.89 941.31,1119.01 942.49,1119.14 943.66,1119.27 944.83,1119.4 946,1119.54 947.18,1119.67 948.35,1119.81 949.52,1119.96 950.69,1120.1 951.87,1120.25 953.04,1120.4 954.21,1120.55 955.38,1120.71 956.56,1120.87 957.73,1121.03 958.9,1121.19 960.07,1121.36 961.25,1121.53 962.42,1121.71 963.59,1121.89 964.76,1122.07 965.94,1122.25 967.11,1122.44 968.28,1122.63 969.45,1122.83 970.63,1123.03 971.8,1123.23 972.97,1123.43 974.14,1123.64 975.32,1123.86 976.49,1124.08 977.66,1124.3 978.83,1124.52 980.01,1124.75 981.18,1124.99 982.35,1125.23 983.52,1125.47 984.7,1125.72 985.87,1125.97 987.04,1126.23 988.21,1126.49 989.39,1126.76 990.56,1127.03 991.73,1127.3 992.9,1127.59 994.08,1127.87 995.25,1128.17 996.42,1128.46 997.59,1128.77 998.77,1129.07 999.94,1129.39 1001.11,1129.71 1002.28,1130.03 1003.46,1130.37 1004.63,1130.7 1005.8,1131.05 1006.97,1131.4 1008.15,1131.76 1009.32,1132.12 1010.49,1132.49 1011.66,1132.87 1012.84,1133.25 1014.01,1133.64 1015.18,1134.04 1016.35,1134.44 1017.53,1134.85 1018.7,1135.27 1019.87,1135.7 1021.04,1136.13 1022.22,1136.58 1023.39,1137.03 1024.56,1137.48 1025.73,1137.95 1026.91,1138.43 1028.08,1138.91 1029.25,1139.4 1030.42,1139.9 1031.6,1140.41 1032.77,1140.93 1033.94,1141.46 1035.11,1142 1036.29,1142.54 1037.46,1143.1 1038.63,1143.66 1039.8,1144.24 1040.98,1144.83 1042.15,1145.42 1043.32,1146.03 1044.49,1146.65 1045.67,1147.28 1046.84,1147.92 1048.01,1148.57 1049.18,1149.23 1050.36,1149.9 1051.53,1150.59 1052.7,1151.28 1053.87,1151.99 1055.05,1152.71 1056.22,1153.44 1057.39,1154.19 1058.56,1154.95 1059.74,1155.72 1060.91,1156.5 1062.08,1157.3 1063.25,1158.11 1064.43,1158.93 1065.6,1159.77 1066.77,1160.62 1067.94,1161.49 1069.12,1162.37 1070.29,1163.27 1071.46,1164.18 1072.63,1165.1 1073.81,1166.04 1074.98,1167 1076.15,1167.97 1077.32,1168.96 1078.5,1169.96 1079.67,1170.98 1080.84,1172.02 1082.01,1173.07 1083.19,1174.14 1084.36,1175.23 1085.53,1176.33 1086.7,1177.45 1087.88,1178.59 1089.05,1179.75 1090.22,1180.93 1091.39,1182.12 1092.57,1183.33 1093.74,1184.56 1094.91,1185.82 1096.08,1187.08 1097.26,1188.37 1098.43,1189.68 1099.6,1191.01 1100.77,1192.36 1101.95,1193.73 1103.12,1195.12 1104.29,1196.53 1105.46,1197.96 1106.64,1199.41 1107.81,1200.89 1108.98,1202.38 1110.15,1203.9 1111.33,1205.44 1112.5,1207 1113.67,1208.58 1114.84,1210.18 1116.02,1211.81 1117.19,1213.46 1118.36,1215.14 1119.53,1216.83 1120.71,1218.55 1121.88,1220.3 1123.05,1222.07 1124.22,1223.86 1125.4,1225.67 1126.57,1227.51 1127.74,1229.38 1128.91,1231.26 1130.09,1233.18 1131.26,1235.11 1132.43,1237.08 1133.6,1239.06 1134.78,1241.08 1135.95,1243.11 1137.12,1245.18 1138.29,1247.27 1139.47,1249.38 1140.64,1251.52 1141.81,1253.68 1142.98,1255.87 1144.16,1258.09 1145.33,1260.33 1146.5,1262.6 1147.67,1264.89 1148.85,1267.21 1150.02,1269.55 1151.19,1271.93 1152.36,1274.32 1153.54,1276.74 1154.71,1279.19 1155.88,1281.67 1157.05,1284.17 1158.23,1286.69 1159.4,1289.24 1160.57,1291.82 1161.74,1294.42 1162.92,1297.05 1164.09,1299.7 1165.26,1302.38 1166.43,1305.08 1167.61,1307.81 1168.78,1310.56 1169.95,1313.33 1171.12,1316.13 1172.3,1318.96 1173.47,1321.81 1174.64,1324.68 1175.81,1327.57 1176.99,1330.49 1178.16,1333.44 1179.33,1336.4 1180.5,1339.39 1181.68,1342.39 1182.85,1345.43 1184.02,1348.48 1185.19,1351.55 1186.37,1354.64 1187.54,1357.76 1188.71,1360.89 1189.88,1364.05 1191.06,1367.22 1192.23,1370.41 1193.4,1373.62 1194.57,1376.85 1195.75,1380.1 1196.92,1383.36 1198.09,1386.64 1199.26,1389.94 1200.44,1393.25 1201.61,1396.58 1202.78,1399.92 1203.95,1403.28 1205.13,1406.65 1206.3,1410.04 1207.47,1413.43 1208.64,1416.84 1209.82,1420.26 1210.99,1423.69 1212.16,1427.13 1213.33,1430.59 1214.51,1434.05 1215.68,1437.52 1216.85,1440.99 1218.02,1444.48 1219.2,1447.97 1220.37,1451.47 1221.54,1454.97 1222.71,1458.48 1223.89,1461.99 1225.06,1465.51 1226.23,1469.03 1227.4,1472.55 1228.58,1476.08 1229.75,1479.6 1230.92,1483.13 1232.09,1486.66 1233.27,1490.18 1234.44,1493.71 1235.61,1497.23 1236.78,1500.75 1237.96,1504.27 1239.13,1507.78 1240.3,1511.29 1241.47,1514.79 1242.65,1518.29 1243.82,1521.78 1244.99,1525.26 1246.16,1528.74 1247.34,1532.21 1248.51,1535.66 1249.68,1539.11 1250.85,1542.55 1252.03,1545.98 1253.2,1549.4 1254.37,1552.81 1255.54,1556.2 1256.72,1559.59 1257.89,1562.95 1259.06,1566.31 1260.23,1569.65 1261.41,1572.97 1262.58,1576.28 1263.75,1579.58 1264.92,1582.86 1266.1,1586.12 1267.27,1589.36 1268.44,1592.59 1269.61,1595.79 1270.79,1598.98 1271.96,1602.15 1273.13,1605.3 1274.3,1608.44 1275.48,1611.55 1276.65,1614.64 1277.82,1617.71 1278.99,1620.76 1280.17,1623.78 1281.34,1626.79 1282.51,1629.77 1283.68,1632.73 1284.86,1635.67 1286.03,1638.58 1287.2,1641.47 1288.37,1644.34 1289.55,1647.19 1290.72,1650.01 1291.89,1652.8 1293.06,1655.58 1294.24,1658.32 1295.41,1661.05 1296.58,1663.75 1297.75,1666.42 1298.93,1669.07 1300.1,1671.69 1301.27,1674.29 1302.44,1676.86 1303.62,1679.41 1304.79,1681.93 1305.96,1684.42 1307.13,1686.89 1308.31,1689.34 1309.48,1691.75 1310.65,1694.15 1311.82,1696.51 1313,1698.85 1314.17,1701.17 1315.34,1703.46 1316.51,1705.72 1317.69,1707.96 1318.86,1710.17 1320.03,1712.35 1321.2,1714.51 1322.37,1716.65 1323.55,1718.76 1324.72,1720.84 1325.89,1722.9 1327.06,1724.93 1328.24,1726.94 1329.41,1728.93 1330.58,1730.88 1331.75,1732.82 1332.93,1734.73 1334.1,1736.61 1335.27,1738.47 1336.44,1740.31 1337.62,1742.12 1338.79,1743.9 1339.96,1745.67 1341.13,1747.41 1342.31,1749.12 1343.48,1750.82 1344.65,1752.49 1345.82,1754.13 1347,1755.76 1348.17,1757.36 1349.34,1758.94 1350.51,1760.5 1351.69,1762.03 1352.86,1763.54 1354.03,1765.04 1355.2,1766.51 1356.38,1767.95 1357.55,1769.38 1358.72,1770.79 1359.89,1772.17 1361.07,1773.54 1362.24,1774.89 1363.41,1776.21 1364.58,1777.52 1365.76,1778.8 1366.93,1780.07 1368.1,1781.32 1369.27,1782.54 1370.45,1783.75 1371.62,1784.94 1372.79,1786.12 1373.96,1787.27 1375.14,1788.41 1376.31,1789.53 1377.48,1790.63 1378.65,1791.71 1379.83,1792.78 1381,1793.83 1382.17,1794.86 1383.34,1795.88 1384.52,1796.88 1385.69,1797.87 1386.86,1798.83 1388.03,1799.79 1389.21,1800.73 1390.38,1801.65 1391.55,1802.56 1392.72,1803.45" stroke="#000" stroke-width="8.4" fill="none" stroke-linejoin="round"/>
<path d="M909.15 1127.97H940.65M924.9 1112.22V1143.72" stroke="#000" stroke-width="7.5" fill="none"/>
<path d="M1015.02 1116.7H1046.52M1030.77 1100.95V1132.45" stroke="#000" stroke-width="7.5" fill="none"/>
<path d="M1090.13 1156.68H1121.63M1105.88 1140.93V1172.43" stroke="#000" stroke-width="7.5" fill="none"/>
<path d="M1148.39 1336.98H1179.89M1164.14 1321.23V1352.73" stroke="#000" stroke-width="7.5" fill="none"/>
<path d="M1196 1450.03H1227.5M1211.75 1434.28V1465.78" stroke="#000" stroke-width="7.5" fill="none"/>
<path d="M1271.11 1610.33H1302.61M1286.86 1594.58V1626.08" stroke="#000" stroke-width="7.5" fill="none"/>
<path d="M1329.37 1751.73H1360.87M1345.12 1735.98V1767.48" stroke="#000" stroke-width="7.5" fill="none"/>
<path d="M1376.97 1837.88H1408.47M1392.72 1822.13V1853.63" stroke="#000" stroke-width="7.5" fill="none"/>
<polyline points="924.9,1119.1 926.07,1119.17 927.24,1119.23 928.42,1119.3 929.59,1119.37 930.76,1119.44 931.93,1119.51 933.11,1119.59 934.28,1119.67 935.45,1119.75 936.62,1119.83 937.8,1119.91 938.97,1120 940.14,1120.08 941.31,1120.17 942.49,1120.27 943.66,1120.36 944.83,1120.46 946,1120.56 947.18,1120.66 948.35,1120.77 949.52,1120.88 950.69,1120.99 951.87,1121.1 953.04,1121.22 954.21,1121.34 955.38,1121.47 956.56,1121.59 957.73,1121.72 958.9,1121.86 960.07,1122 961.25,1122.14 962.42,1122.28 963.59,1122.43 964.76,1122.58 965.94,1122.74 967.11,1122.9 968.28,1123.07 969.45,1123.24 970.63,1123.41 971.8,1123.59 972.97,1123.77 974.14,1123.96 975.32,1124.15 976.49,1124.35 977.66,1124.55 978.83,1124.76 980.01,1124.97 981.18,1125.19 982.35,1125.42 983.52,1125.65 984.7,1125.89 985.87,1126.13 987.04,1126.38 988.21,1126.64 989.39,1126.9 990.56,1127.17 991.73,1127.45 992.9,1127.73 994.08,1128.02 995.25,1128.32 996.42,1128.63 997.59,1128.94 998.77,1129.27 999.94,1129.6 1001.11,1129.94 1002.28,1130.29 1003.46,1130.64 1004.63,1131.01 1005.8,1131.39 1006.97,1131.77 1008.15,1132.17 1009.32,1132.57 1010.49,1132.99 1011.66,1133.42 1012.84,1133.86 1014.01,1134.31 1015.18,1134.77 1016.35,1135.24 1017.53,1135.72 1018.7,1136.22 1019.87,1136.73 1021.04,1137.25 1022.22,1137.79 1023.39,1138.33 1024.56,1138.9 1025.73,1139.47 1026.91,1140.07 1028.08,1140.67 1029.25,1141.29 1030.42,1141.93 1031.6,1142.58 1032.77,1143.25 1033.94,1143.94 1035.11,1144.64 1036.29,1145.36 1037.46,1146.1 1038.63,1146.85 1039.8,1147.62 1040.98,1148.42 1042.15,1149.23 1043.32,1150.06 1044.49,1150.91 1045.67,1151.79 1046.84,1152.68 1048.01,1153.6 1049.18,1154.53 1050.36,1155.49 1051.53,1156.48 1052.7,1157.48 1053.87,1158.51 1055.05,1159.57 1056.22,1160.65 1057.39,1161.75 1058.56,1162.88 1059.74,1164.04 1060.91,1165.22 1062.08,1166.43 1063.25,1167.67 1064.43,1168.94 1065.6,1170.23 1066.77,1171.56 1067.94,1172.91 1069.12,1174.3 1070.29,1175.71 1071.46,1177.16 1072.63,1178.64 1073.81,1180.15 1074.98,1181.7 1076.15,1183.28 1077.32,1184.89 1078.5,1186.54 1079.67,1188.23 1080.84,1189.95 1082.01,1191.7 1083.19,1193.5 1084.36,1195.33 1085.53,1197.2 1086.7,1199.11 1087.88,1201.05 1089.05,1203.04 1090.22,1205.07 1091.39,1207.13 1092.57,1209.24 1093.74,1211.39 1094.91,1213.58 1096.08,1215.81 1097.26,1218.09 1098.43,1220.41 1099.6,1222.77 1100.77,1225.18 1101.95,1227.63 1103.12,1230.13 1104.29,1232.67 1105.46,1235.26 1106.64,1237.89 1107.81,1240.57 1108.98,1243.3 1110.15,1246.07 1111.33,1248.89 1112.5,1251.76 1113.67,1254.67 1114.84,1257.63 1116.02,1260.64 1117.19,1263.69 1118.36,1266.79 1119.53,1269.94 1120.71,1273.14 1121.88,1276.38 1123.05,1279.67 1124.22,1283.01 1125.4,1286.4 1126.57,1289.83 1127.74,1293.31 1128.91,1296.83 1130.09,1300.4 1131.26,1304.01 1132.43,1307.67 1133.6,1311.38 1134.78,1315.12 1135.95,1318.91 1137.12,1322.75 1138.29,1326.62 1139.47,1330.54 1140.64,1334.5 1141.81,1338.5 1142.98,1342.53 1144.16,1346.61 1145.33,1350.72 1146.5,1354.87 1147.67,1359.05 1148.85,1363.27 1150.02,1367.52 1151.19,1371.8 1152.36,1376.12 1153.54,1380.46 1154.71,1384.84 1155.88,1389.24 1157.05,1393.66 1158.23,1398.11 1159.4,1402.59 1160.57,1407.08 1161.74,1411.6 1162.92,1416.13 1164.09,1420.69 1165.26,1425.25 1166.43,1429.84 1167.61,1434.43 1168.78,1439.04 1169.95,1443.66 1171.12,1448.28 1172.3,1452.91 1173.47,1457.55 1174.64,1462.19 1175.81,1466.83 1176.99,1471.47 1178.16,1476.12 1179.33,1480.75 1180.5,1485.38 1181.68,1490.01 1182.85,1494.63 1184.02,1499.24 1185.19,1503.83 1186.37,1508.42 1187.54,1512.99 1188.71,1517.54 1189.88,1522.08 1191.06,1526.59 1192.23,1531.09 1193.4,1535.57 1194.57,1540.02 1195.75,1544.45 1196.92,1548.85 1198.09,1553.22 1199.26,1557.57 1200.44,1561.89 1201.61,1566.17 1202.78,1570.43 1203.95,1574.65 1205.13,1578.83 1206.3,1582.99 1207.47,1587.1 1208.64,1591.18 1209.82,1595.22 1210.99,1599.22 1212.16,1603.18 1213.33,1607.1 1214.51,1610.98 1215.68,1614.82 1216.85,1618.61 1218.02,1622.36 1219.2,1626.07 1220.37,1629.73 1221.54,1633.35 1222.71,1636.92 1223.89,1640.45 1225.06,1643.93 1226.23,1647.36 1227.4,1650.75 1228.58,1654.09 1229.75,1657.39 1230.92,1660.64 1232.09,1663.84 1233.27,1666.99 1234.44,1670.1 1235.61,1673.15 1236.78,1676.16 1237.96,1679.13 1239.13,1682.04 1240.3,1684.91 1241.47,1687.74 1242.65,1690.51 1243.82,1693.24 1244.99,1695.92 1246.16,1698.56 1247.34,1701.15 1248.51,1703.7 1249.68,1706.2 1250.85,1708.65 1252.03,1711.07 1253.2,1713.43 1254.37,1715.76 1255.54,1718.04 1256.72,1720.27 1257.89,1722.47 1259.06,1724.62 1260.23,1726.73 1261.41,1728.8 1262.58,1730.83 1263.75,1732.82 1264.92,1734.77 1266.1,1736.68 1267.27,1738.55 1268.44,1740.39 1269.61,1742.18 1270.79,1743.94 1271.96,1745.66 1273.13,1747.35 1274.3,1749 1275.48,1750.62 1276.65,1752.2 1277.82,1753.75 1278.99,1755.27 1280.17,1756.75 1281.34,1758.2 1282.51,1759.62 1283.68,1761.01 1284.86,1762.36 1286.03,1763.69 1287.2,1764.99 1288.37,1766.26 1289.55,1767.5 1290.72,1768.71 1291.89,1769.9 1293.06,1771.06 1294.24,1772.19 1295.41,1773.29 1296.58,1774.37 1297.75,1775.43 1298.93,1776.46 1300.1,1777.47 1301.27,1778.46 1302.44,1779.42 1303.62,1780.36 1304.79,1781.27 1305.96,1782.17 1307.13,1783.04 1308.31,1783.9 1309.48,1784.73 1310.65,1785.54 1311.82,1786.34 1313,1787.11 1314.17,1787.87 1315.34,1788.61 1316.51,1789.33 1317.69,1790.03 1318.86,1790.72 1320.03,1791.39 1321.2,1792.04 1322.37,1792.68 1323.55,1793.31 1324.72,1793.91 1325.89,1794.5 1327.06,1795.08 1328.24,1795.65 1329.41,1796.2 1330.58,1796.73 1331.75,1797.26 1332.93,1797.77 1334.1,1798.26 1335.27,1798.75 1336.44,1799.22 1337.62,1799.68 1338.79,1800.13 1339.96,1800.57 1341.13,1801 1342.31,1801.42 1343.48,1801.82 1344.65,1802.22 1345.82,1802.61 1347,1802.98 1348.17,1803.35 1349.34,1803.71 1350.51,1804.06 1351.69,1804.4 1352.86,1804.73 1354.03,1805.06 1355.2,1805.37 1356.38,1805.68 1357.55,1805.98 1358.72,1806.27 1359.89,1806.55 1361.07,1806.83 1362.24,1807.1 1363.41,1807.37 1364.58,1807.62 1365.76,1807.87 1366.93,1808.12 1368.1,1808.35 1369.27,1808.59 1370.45,1808.81 1371.62,1809.03 1372.79,1809.25 1373.96,1809.46 1375.14,1809.66 1376.31,1809.86 1377.48,1810.05 1378.65,1810.24 1379.83,1810.42 1381,1810.6 1382.17,1810.78 1383.34,1810.95 1384.52,1811.11 1385.69,1811.27 1386.86,1811.43 1388.03,1811.58 1389.21,1811.73 1390.38,1811.88 1391.55,1812.02 1392.72,1812.15" stroke="#666" stroke-width="7.4" fill="none" stroke-linejoin="round"/>
<rect x="727.67" y="1104.81" width="32.5" height="32.5" stroke="#666" stroke-width="7" fill="none"/>
<rect x="908.65" y="1109.54" width="32.5" height="32.5" stroke="#666" stroke-width="7" fill="none"/>
<rect x="1014.52" y="1117.9" width="32.5" height="32.5" stroke="#666" stroke-width="7" fill="none"/>
<rect x="1089.63" y="1197.14" width="32.5" height="32.5" stroke="#666" stroke-width="7" fill="none"/>
<rect x="1147.89" y="1453.77" width="32.5" height="32.5" stroke="#666" stroke-width="7" fill="none"/>
<rect x="1195.5" y="1591.17" width="32.5" height="32.5" stroke="#666" stroke-width="7" fill="none"/>
<rect x="1270.61" y="1714.76" width="32.5" height="32.5" stroke="#666" stroke-width="7" fill="none"/>
<rect x="1328.87" y="1794.37" width="32.5" height="32.5" stroke="#666" stroke-width="7" fill="none"/>
<rect x="1376.47" y="1825.41" width="32.5" height="32.5" stroke="#666" stroke-width="7" fill="none"/>
<polyline points="504.68,1124.41 506.9,1124.41 509.13,1124.41 511.36,1124.41 513.58,1124.41 515.81,1124.41 518.03,1124.41 520.26,1124.41 522.48,1124.41 524.71,1124.41 526.94,1124.41 529.16,1124.41 531.39,1124.41 533.61,1124.41 535.84,1124.41 538.06,1124.41 540.29,1124.41 542.52,1124.41 544.74,1124.41 546.97,1124.41 549.19,1124.41 551.42,1124.41 553.64,1124.41 555.87,1124.41 558.1,1124.41 560.32,1124.41 562.55,1124.41 564.77,1124.41 567,1124.41 569.22,1124.41 571.45,1124.41 573.68,1124.41 575.9,1124.41 578.13,1124.41 580.35,1124.41 582.58,1124.41 584.8,1124.41 587.03,1124.41 589.25,1124.41 591.48,1124.41 593.71,1124.41 595.93,1124.41 598.16,1124.41 600.38,1124.41 602.61,1124.41 604.83,1124.41 607.06,1124.41 609.29,1124.41 611.51,1124.41 613.74,1124.41 615.96,1124.41 618.19,1124.41 620.41,1124.41 622.64,1124.41 624.87,1124.41 627.09,1124.41 629.32,1124.41 631.54,1124.41 633.77,1124.41 635.99,1124.41 638.22,1124.41 640.45,1124.41 642.67,1124.41 644.9,1124.41 647.12,1124.41 649.35,1124.41 651.57,1124.41 653.8,1124.41 656.03,1124.41 658.25,1124.41 660.48,1124.41 662.7,1124.41 664.93,1124.41 667.15,1124.41 669.38,1124.41 671.61,1124.41 673.83,1124.41 676.06,1124.41 678.28,1124.41 680.51,1124.41 682.73,1124.41 684.96,1124.41 687.18,1124.41 689.41,1124.42 691.64,1124.42 693.86,1124.42 696.09,1124.42 698.31,1124.42 700.54,1124.42 702.76,1124.42 704.99,1124.42 707.22,1124.42 709.44,1124.42 711.67,1124.42 713.89,1124.42 716.12,1124.42 718.34,1124.42 720.57,1124.43 722.8,1124.43 725.02,1124.43 727.25,1124.43 729.47,1124.43 731.7,1124.43 733.92,1124.43 736.15,1124.43 738.38,1124.43 740.6,1124.44 742.83,1124.44 745.05,1124.44 747.28,1124.44 749.5,1124.44 751.73,1124.44 753.96,1124.45 756.18,1124.45 758.41,1124.45 760.63,1124.45 762.86,1124.46 765.08,1124.46 767.31,1124.46 769.53,1124.46 771.76,1124.47 773.99,1124.47 776.21,1124.47 778.44,1124.48 780.66,1124.48 782.89,1124.49 785.11,1124.49 787.34,1124.49 789.57,1124.5 791.79,1124.5 794.02,1124.51 796.24,1124.51 798.47,1124.52 800.69,1124.52 802.92,1124.53 805.15,1124.54 807.37,1124.54 809.6,1124.55 811.82,1124.56 814.05,1124.57 816.27,1124.58 818.5,1124.58 820.73,1124.59 822.95,1124.6 825.18,1124.61 827.4,1124.63 829.63,1124.64 831.85,1124.65 834.08,1124.66 836.31,1124.67 838.53,1124.69 840.76,1124.7 842.98,1124.72 845.21,1124.74 847.43,1124.75 849.66,1124.77 851.88,1124.79 854.11,1124.81 856.34,1124.83 858.56,1124.85 860.79,1124.88 863.01,1124.9 865.24,1124.93 867.46,1124.96 869.69,1124.98 871.92,1125.01 874.14,1125.05 876.37,1125.08 878.59,1125.12 880.82,1125.15 883.04,1125.19 885.27,1125.23 887.5,1125.28 889.72,1125.32 891.95,1125.37 894.17,1125.42 896.4,1125.47 898.62,1125.53 900.85,1125.59 903.08,1125.65 905.3,1125.71 907.53,1125.78 909.75,1125.85 911.98,1125.93 914.2,1126.01 916.43,1126.09 918.66,1126.18 920.88,1126.28 923.11,1126.37 925.33,1126.48 927.56,1126.58 929.78,1126.7 932.01,1126.82 934.23,1126.94 936.46,1127.08 938.69,1127.22 940.91,1127.36 943.14,1127.52 945.36,1127.68 947.59,1127.85 949.81,1128.03 952.04,1128.22 954.27,1128.42 956.49,1128.63 958.72,1128.84 960.94,1129.08 963.17,1129.32 965.39,1129.57 967.62,1129.84 969.85,1130.13 972.07,1130.42 974.3,1130.74 976.52,1131.07 978.75,1131.41 980.97,1131.77 983.2,1132.16 985.43,1132.56 987.65,1132.98 989.88,1133.42 992.1,1133.89 994.33,1134.38 996.55,1134.89 998.78,1135.44 1001.01,1136 1003.23,1136.6 1005.46,1137.23 1007.68,1137.89 1009.91,1138.58 1012.13,1139.31 1014.36,1140.07 1016.59,1140.87 1018.81,1141.72 1021.04,1142.6 1023.26,1143.53 1025.49,1144.5 1027.71,1145.52 1029.94,1146.59 1032.16,1147.72 1034.39,1148.9 1036.62,1150.13 1038.84,1151.43 1041.07,1152.79 1043.29,1154.21 1045.52,1155.7 1047.74,1157.27 1049.97,1158.9 1052.2,1160.62 1054.42,1162.41 1056.65,1164.29 1058.87,1166.25 1061.1,1168.31 1063.32,1170.46 1065.55,1172.7 1067.78,1175.05 1070,1177.5 1072.23,1180.06 1074.45,1182.73 1076.68,1185.52 1078.9,1188.43 1081.13,1191.46 1083.36,1194.62 1085.58,1197.91 1087.81,1201.34 1090.03,1204.9 1092.26,1208.61 1094.48,1212.46 1096.71,1216.46 1098.94,1220.62 1101.16,1224.93 1103.39,1229.4 1105.61,1234.03 1107.84,1238.83 1110.06,1243.79 1112.29,1248.93 1114.51,1254.23 1116.74,1259.71 1118.97,1265.36 1121.19,1271.18 1123.42,1277.17 1125.64,1283.34 1127.87,1289.69 1130.09,1296.2 1132.32,1302.88 1134.55,1309.73 1136.77,1316.75 1139,1323.93 1141.22,1331.26 1143.45,1338.74 1145.67,1346.38 1147.9,1354.15 1150.13,1362.06 1152.35,1370.09 1154.58,1378.25 1156.8,1386.52 1159.03,1394.89 1161.25,1403.35 1163.48,1411.9 1165.71,1420.52 1167.93,1429.2 1170.16,1437.94 1172.38,1446.72 1174.61,1455.53 1176.83,1464.36 1179.06,1473.2 1181.29,1482.04 1183.51,1490.86 1185.74,1499.65 1187.96,1508.4 1190.19,1517.11 1192.41,1525.75 1194.64,1534.33 1196.86,1542.82 1199.09,1551.22 1201.32,1559.53 1203.54,1567.72 1205.77,1575.8 1207.99,1583.75 1210.22,1591.58 1212.44,1599.26 1214.67,1606.8 1216.9,1614.18 1219.12,1621.41 1221.35,1628.49 1223.57,1635.39 1225.8,1642.14 1228.02,1648.71 1230.25,1655.11 1232.48,1661.34 1234.7,1667.4 1236.93,1673.28 1239.15,1678.99 1241.38,1684.53 1243.6,1689.89 1245.83,1695.08 1248.06,1700.1 1250.28,1704.96 1252.51,1709.65 1254.73,1714.18 1256.96,1718.54 1259.18,1722.75 1261.41,1726.81 1263.64,1730.71 1265.86,1734.47 1268.09,1738.08 1270.31,1741.56 1272.54,1744.89 1274.76,1748.1 1276.99,1751.17 1279.21,1754.12 1281.44,1756.95 1283.67,1759.66 1285.89,1762.26 1288.12,1764.75 1290.34,1767.14 1292.57,1769.42 1294.79,1771.6 1297.02,1773.69 1299.25,1775.68 1301.47,1777.59 1303.7,1779.41 1305.92,1781.15 1308.15,1782.82 1310.37,1784.41 1312.6,1785.92 1314.83,1787.37 1317.05,1788.75 1319.28,1790.07 1321.5,1791.32 1323.73,1792.52 1325.95,1793.67 1328.18,1794.76 1330.41,1795.79 1332.63,1796.78 1334.86,1797.73 1337.08,1798.63 1339.31,1799.48 1341.53,1800.3 1343.76,1801.07 1345.99,1801.81 1348.21,1802.52 1350.44,1803.19 1352.66,1803.83 1354.89,1804.44 1357.11,1805.01 1359.34,1805.56 1361.57,1806.09 1363.79,1806.59 1366.02,1807.06 1368.24,1807.51 1370.47,1807.94 1372.69,1808.35 1374.92,1808.74 1377.14,1809.11 1379.37,1809.46 1381.6,1809.8 1383.82,1810.11 1386.05,1810.42 1388.27,1810.7 1390.5,1810.98 1392.72,1811.24" stroke="#000" stroke-width="8.4" fill="none" stroke-linejoin="round"/>
<path d="M743.92 1120.45L759.29 1150.82H728.55Z" stroke="#000" stroke-width="7.3" fill="none" stroke-linejoin="miter"/>
<path d="M924.9 1125.54L940.27 1155.91H909.53Z" stroke="#000" stroke-width="7.3" fill="none" stroke-linejoin="miter"/>
<path d="M1030.77 1133.54L1046.14 1163.91H1015.4Z" stroke="#000" stroke-width="7.3" fill="none" stroke-linejoin="miter"/>
<path d="M1105.88 1189.52L1121.25 1219.89H1090.51Z" stroke="#000" stroke-width="7.3" fill="none" stroke-linejoin="miter"/>
<path d="M1164.14 1424.34L1179.51 1454.71H1148.77Z" stroke="#000" stroke-width="7.3" fill="none" stroke-linejoin="miter"/>
<path d="M1211.75 1596.64L1227.12 1627.01H1196.38Z" stroke="#000" stroke-width="7.3" fill="none" stroke-linejoin="miter"/>
<path d="M1286.86 1695.14L1302.23 1725.51H1271.49Z" stroke="#000" stroke-width="7.3" fill="none" stroke-linejoin="miter"/>
<path d="M1345.12 1805.29L1360.49 1835.66H1329.75Z" stroke="#000" stroke-width="7.3" fill="none" stroke-linejoin="miter"/>
<path d="M1392.72 1823.68L1408.09 1854.05H1377.35Z" stroke="#000" stroke-width="7.3" fill="none" stroke-linejoin="miter"/>
<polyline points="504.68,1156.32 506.78,1156.32 508.88,1156.32 510.97,1156.32 513.07,1156.32 515.17,1156.32 517.27,1156.32 519.37,1156.32 521.47,1156.32 523.57,1156.32 525.66,1156.32 527.76,1156.32 529.86,1156.32 531.96,1156.32 534.06,1156.32 536.16,1156.32 538.25,1156.32 540.35,1156.32 542.45,1156.32 544.55,1156.32 546.65,1156.32 548.75,1156.32 550.85,1156.32 552.94,1156.32 555.04,1156.32 557.14,1156.32 559.24,1156.32 561.34,1156.32 563.44,1156.32 565.53,1156.32 567.63,1156.32 569.73,1156.32 571.83,1156.32 573.93,1156.32 576.03,1156.32 578.13,1156.32 580.22,1156.32 582.32,1156.32 584.42,1156.32 586.52,1156.32 588.62,1156.32 590.72,1156.32 592.81,1156.32 594.91,1156.32 597.01,1156.32 599.11,1156.32 601.21,1156.32 603.31,1156.32 605.41,1156.32 607.5,1156.32 609.6,1156.32 611.7,1156.32 613.8,1156.32 615.9,1156.32 618,1156.32 620.1,1156.32 622.19,1156.32 624.29,1156.32 626.39,1156.32 628.49,1156.32 630.59,1156.32 632.69,1156.32 634.78,1156.32 636.88,1156.32 638.98,1156.32 641.08,1156.32 643.18,1156.32 645.28,1156.32 647.38,1156.32 649.47,1156.32 651.57,1156.32 653.67,1156.32 655.77,1156.32 657.87,1156.32 659.97,1156.32 662.06,1156.32 664.16,1156.32 666.26,1156.32 668.36,1156.32 670.46,1156.32 672.56,1156.32 674.66,1156.32 676.75,1156.32 678.85,1156.32 680.95,1156.32 683.05,1156.32 685.15,1156.32 687.25,1156.32 689.34,1156.32 691.44,1156.32 693.54,1156.32 695.64,1156.32 697.74,1156.32 699.84,1156.32 701.94,1156.32 704.03,1156.32 706.13,1156.32 708.23,1156.32 710.33,1156.32 712.43,1156.32 714.53,1156.32 716.62,1156.32 718.72,1156.32 720.82,1156.32 722.92,1156.32 725.02,1156.32 727.12,1156.32 729.22,1156.32 731.31,1156.32 733.41,1156.32 735.51,1156.32 737.61,1156.32 739.71,1156.32 741.81,1156.32 743.9,1156.32 746,1156.32 748.1,1156.32 750.2,1156.32 752.3,1156.32 754.4,1156.32 756.5,1156.32 758.59,1156.32 760.69,1156.32 762.79,1156.32 764.89,1156.32 766.99,1156.32 769.09,1156.32 771.18,1156.32 773.28,1156.32 775.38,1156.32 777.48,1156.32 779.58,1156.32 781.68,1156.32 783.78,1156.32 785.87,1156.32 787.97,1156.32 790.07,1156.32 792.17,1156.32 794.27,1156.32 796.37,1156.32 798.46,1156.32 800.56,1156.32 802.66,1156.33 804.76,1156.33 806.86,1156.33 808.96,1156.33 811.06,1156.33 813.15,1156.33 815.25,1156.33 817.35,1156.33 819.45,1156.33 821.55,1156.33 823.65,1156.33 825.75,1156.33 827.84,1156.33 829.94,1156.33 832.04,1156.33 834.14,1156.33 836.24,1156.33 838.34,1156.34 840.43,1156.34 842.53,1156.34 844.63,1156.34 846.73,1156.34 848.83,1156.34 850.93,1156.34 853.03,1156.35 855.12,1156.35 857.22,1156.35 859.32,1156.35 861.42,1156.35 863.52,1156.36 865.62,1156.36 867.71,1156.36 869.81,1156.37 871.91,1156.37 874.01,1156.38 876.11,1156.38 878.21,1156.38 880.31,1156.39 882.4,1156.4 884.5,1156.4 886.6,1156.41 888.7,1156.41 890.8,1156.42 892.9,1156.43 894.99,1156.44 897.09,1156.45 899.19,1156.46 901.29,1156.47 903.39,1156.48 905.49,1156.5 907.59,1156.51 909.68,1156.53 911.78,1156.54 913.88,1156.56 915.98,1156.58 918.08,1156.6 920.18,1156.63 922.27,1156.65 924.37,1156.68 926.47,1156.71 928.57,1156.74 930.67,1156.77 932.77,1156.81 934.87,1156.85 936.96,1156.89 939.06,1156.94 941.16,1156.99 943.26,1157.05 945.36,1157.11 947.46,1157.17 949.55,1157.24 951.65,1157.32 953.75,1157.4 955.85,1157.49 957.95,1157.58 960.05,1157.68 962.15,1157.8 964.24,1157.92 966.34,1158.05 968.44,1158.19 970.54,1158.34 972.64,1158.51 974.74,1158.69 976.83,1158.88 978.93,1159.09 981.03,1159.32 983.13,1159.56 985.23,1159.83 987.33,1160.11 989.43,1160.42 991.52,1160.76 993.62,1161.12 995.72,1161.51 997.82,1161.93 999.92,1162.39 1002.02,1162.88 1004.12,1163.42 1006.21,1163.99 1008.31,1164.62 1010.41,1165.29 1012.51,1166.02 1014.61,1166.8 1016.71,1167.65 1018.8,1168.56 1020.9,1169.55 1023,1170.62 1025.1,1171.76 1027.2,1173 1029.3,1174.34 1031.4,1175.78 1033.49,1177.33 1035.59,1179.01 1037.69,1180.81 1039.79,1182.75 1041.89,1184.83 1043.99,1187.07 1046.08,1189.49 1048.18,1192.08 1050.28,1194.86 1052.38,1197.84 1054.48,1201.05 1056.58,1204.48 1058.68,1208.15 1060.77,1212.08 1062.87,1216.29 1064.97,1220.78 1067.07,1225.57 1069.17,1230.68 1071.27,1236.12 1073.36,1241.91 1075.46,1248.05 1077.56,1254.57 1079.66,1261.48 1081.76,1268.79 1083.86,1276.5 1085.96,1284.64 1088.05,1293.2 1090.15,1302.2 1092.25,1311.63 1094.35,1321.5 1096.45,1331.81 1098.55,1342.54 1100.64,1353.7 1102.74,1365.27 1104.84,1377.24 1106.94,1389.58 1109.04,1402.28 1111.14,1415.31 1113.24,1428.65 1115.33,1442.25 1117.43,1456.09 1119.53,1470.12 1121.63,1484.31 1123.73,1498.61 1125.83,1512.98 1127.92,1527.38 1130.02,1541.76 1132.12,1556.07 1134.22,1570.27 1136.32,1584.33 1138.42,1598.19 1140.52,1611.83 1142.61,1625.2 1144.71,1638.27 1146.81,1651.01 1148.91,1663.4 1151.01,1675.42 1153.11,1687.04 1155.2,1698.25 1157.3,1709.04 1159.4,1719.4 1161.5,1729.33 1163.6,1738.81 1165.7,1747.87 1167.8,1756.48 1169.89,1764.67 1171.99,1772.44 1174.09,1779.8 1176.19,1786.76 1178.29,1793.33 1180.39,1799.52 1182.48,1805.35 1184.58,1810.84 1186.68,1815.99 1188.78,1820.82 1190.88,1825.35 1192.98,1829.58 1195.08,1833.55 1197.17,1837.26 1199.27,1840.72 1201.37,1843.95 1203.47,1846.96 1205.57,1849.77 1207.67,1852.38 1209.77,1854.82 1211.86,1857.08 1213.96,1859.19 1216.06,1861.14 1218.16,1862.96 1220.26,1864.65 1222.36,1866.22 1224.45,1867.67 1226.55,1869.02 1228.65,1870.27 1230.75,1871.43 1232.85,1872.51 1234.95,1873.5 1237.05,1874.43 1239.14,1875.28 1241.24,1876.08 1243.34,1876.81 1245.44,1877.49 1247.54,1878.12 1249.64,1878.7 1251.73,1879.24 1253.83,1879.74 1255.93,1880.2 1258.03,1880.63 1260.13,1881.02 1262.23,1881.39 1264.33,1881.73 1266.42,1882.04 1268.52,1882.33 1270.62,1882.59 1272.72,1882.84 1274.82,1883.07 1276.92,1883.28 1279.01,1883.48 1281.11,1883.66 1283.21,1883.83 1285.31,1883.98 1287.41,1884.12 1289.51,1884.25 1291.61,1884.38 1293.7,1884.49 1295.8,1884.59 1297.9,1884.69 1300,1884.78 1302.1,1884.86 1304.2,1884.94 1306.29,1885.01 1308.39,1885.07 1310.49,1885.13 1312.59,1885.19 1314.69,1885.24 1316.79,1885.29 1318.89,1885.33 1320.98,1885.37 1323.08,1885.41 1325.18,1885.44 1327.28,1885.48 1329.38,1885.51 1331.48,1885.53 1333.57,1885.56 1335.67,1885.58 1337.77,1885.6 1339.87,1885.62 1341.97,1885.64" stroke="#000" stroke-width="8.4" fill="none" stroke-linejoin="round"/>
<circle cx="504.68" cy="1153.05" r="15.3" fill="#000"/>
<circle cx="685.66" cy="1171.23" r="15.3" fill="#000"/>
<circle cx="791.52" cy="1162.5" r="15.3" fill="#000"/>
<circle cx="866.64" cy="1197.4" r="15.3" fill="#000"/>
<circle cx="924.9" cy="1153.41" r="15.3" fill="#000"/>
<circle cx="972.5" cy="1126.88" r="15.3" fill="#000"/>
<circle cx="1012.75" cy="1180.68" r="15.3" fill="#000"/>
<circle cx="1047.62" cy="1158.14" r="15.3" fill="#000"/>
<circle cx="1078.37" cy="1234.47" r="15.3" fill="#000"/>
<circle cx="1105.88" cy="1386.42" r="15.3" fill="#000"/>
<circle cx="1130.76" cy="1547.81" r="15.3" fill="#000"/>
<circle cx="1153.48" cy="1709.2" r="15.3" fill="#000"/>
<circle cx="1174.38" cy="1710.3" r="15.3" fill="#000"/>
<circle cx="1193.73" cy="1829.16" r="15.3" fill="#000"/>
<circle cx="1211.75" cy="1842.03" r="15.3" fill="#000"/>
<circle cx="1286.86" cy="1869.14" r="15.3" fill="#000"/>
<text transform="translate(73.4 441) rotate(-90) scale(1 1.04)" text-anchor="middle" class="yl" textLength="355.5" lengthAdjust="spacing">% Remaining</text>
<text transform="translate(141 443.5) rotate(-90) scale(1 1.04)" text-anchor="middle" class="yl" textLength="518" lengthAdjust="spacing">proteinase activity</text>
<text transform="translate(78.7 1517.5) rotate(-90) scale(1 1.04)" text-anchor="middle" class="yl" textLength="355.5" lengthAdjust="spacing">% Remaining</text>
<text transform="translate(146.3 1516.3) rotate(-90) scale(1 1.04)" text-anchor="middle" class="yl" textLength="518" lengthAdjust="spacing">proteinase activity</text>
<text transform="translate(926.7 2104.2) scale(1 1.04)" text-anchor="middle" class="yl" textLength="791" lengthAdjust="spacing">Inhibitor concentration [nM]</text>
<text transform="translate(466 615.7) scale(1 1.04)" class="an" textLength="407.5" lengthAdjust="spacing">1 ng Cathepin B</text>
<text transform="translate(462 1690.4) scale(1 1.04)" class="an" textLength="432" lengthAdjust="spacing">1 ng Cathepsin L</text>
<path d="M1597 1188.9H1683.5" stroke="#000" stroke-width="8.4"/>
<circle cx="1640" cy="1188.9" r="15.3" fill="#000"/>
<path d="M1597 1284.9H1683.5" stroke="#000" stroke-width="8.4"/>
<path d="M1640 1271.93L1655.37 1302.3H1624.63Z" stroke="#000" stroke-width="7.3" fill="none" stroke-linejoin="miter"/>
<path d="M1597 1381.2H1683.5" stroke="#666" stroke-width="7.4"/>
<rect x="1623.75" y="1364.95" width="32.5" height="32.5" stroke="#666" stroke-width="7" fill="none"/>
<path d="M1597 1477.6H1683.5" stroke="#000" stroke-width="8.4"/>
<path d="M1624.25 1477.6H1655.75M1640 1461.85V1493.35" stroke="#000" stroke-width="7.5" fill="none"/>
<text transform="translate(1731.7 1208.2) scale(1 1.04)" class="an" textLength="244.8" lengthAdjust="spacing"><tspan font-style="italic">Fg</tspan>Stefin2</text>
<text transform="translate(1731.7 1304.2) scale(1 1.04)" class="an" textLength="190.3" lengthAdjust="spacing"><tspan font-style="italic">Ov</tspan>Cys1</text>
<text transform="translate(1731.7 1400.5) scale(1 1.04)" class="an" textLength="195.2" lengthAdjust="spacing"><tspan font-style="italic">Ov</tspan>Cys3</text>
<text transform="translate(1731.7 1496.9) scale(1 1.04)" class="an" textLength="195.2" lengthAdjust="spacing"><tspan font-style="italic">Ov</tspan>Cys4</text>
</svg>
</body></html>
